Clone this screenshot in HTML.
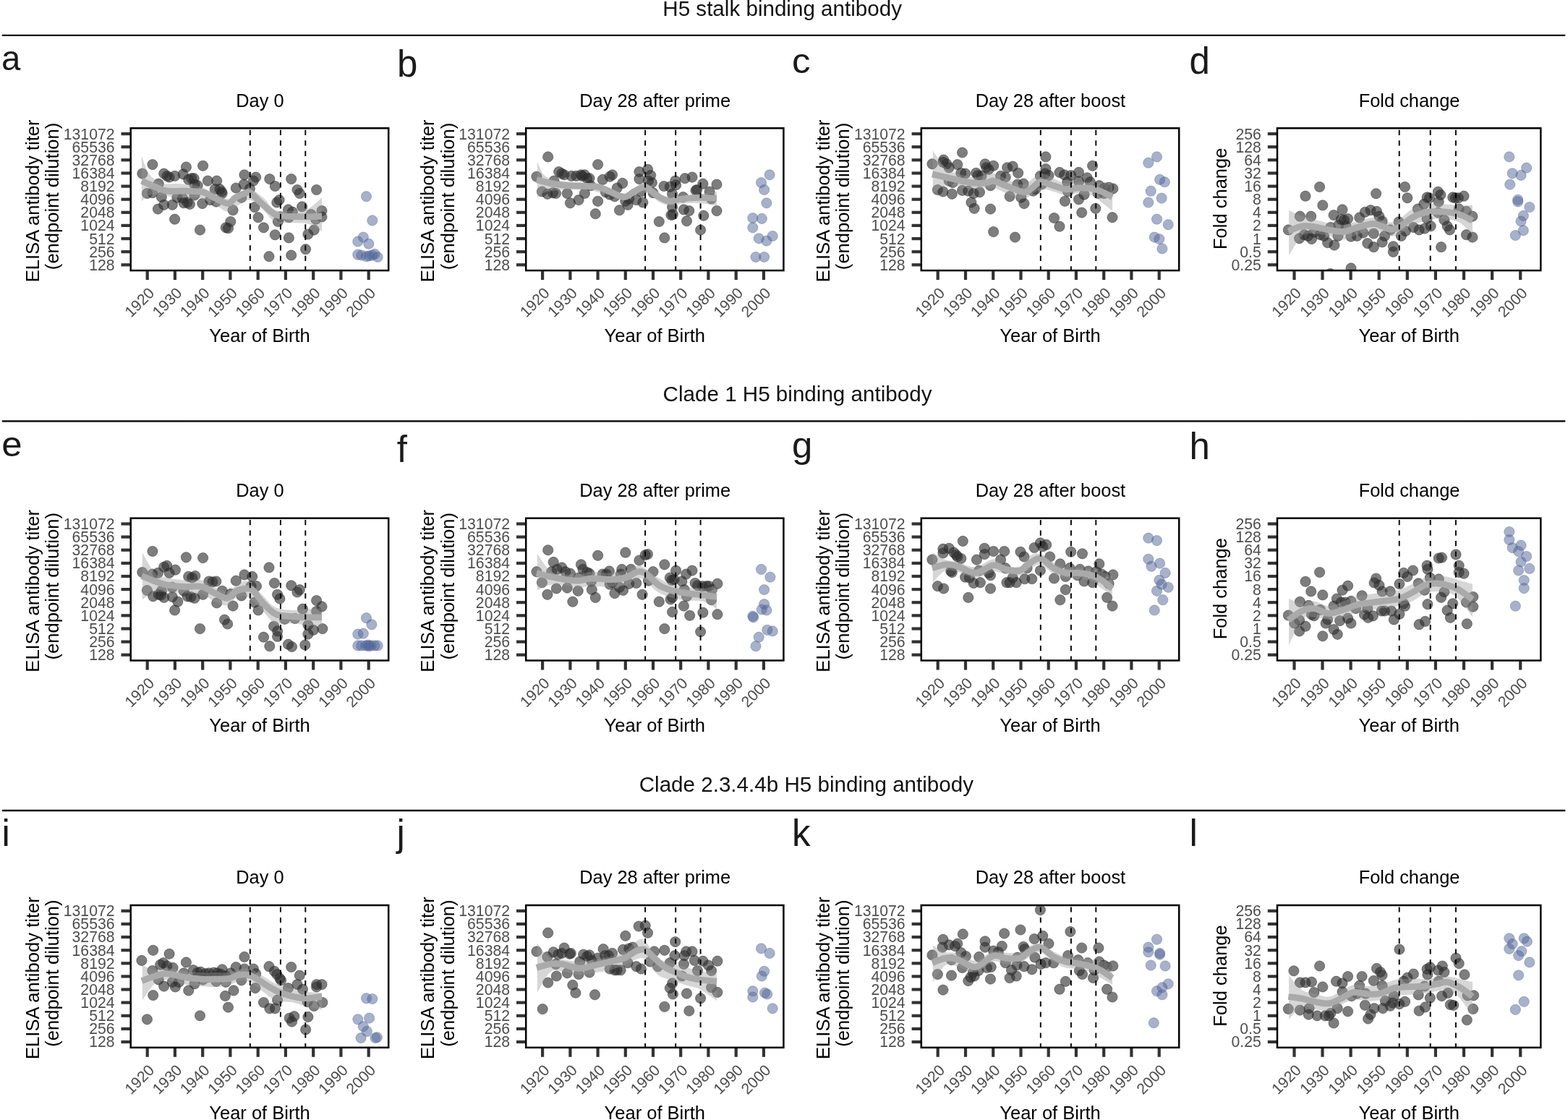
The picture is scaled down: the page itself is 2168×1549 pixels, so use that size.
<!DOCTYPE html><html><head><meta charset="utf-8"><title>H5 antibody titers by year of birth</title>
<style>html,body{margin:0;padding:0;background:#fff;overflow:hidden;width:2168px;height:1549px;}svg{display:block;}text{font-family:"Liberation Sans", Arial, Helvetica, sans-serif;}</style></head><body>
<svg width="2168" height="1549" viewBox="0 0 2168 1549">
<rect width="2168" height="1549" fill="#fff"/>
<text x="916.3" y="21.7" font-size="29.6" fill="#111">H5 stalk binding antibody</text>
<line x1="3.7" y1="48.8" x2="2163.4" y2="48.8" stroke="#111" stroke-width="2.3" stroke-linecap="round"/>
<text transform="translate(2 96.9) scale(0.93 0.96)" font-size="51" fill="#1a1a1a">a</text>
<text x="359.4" y="147.5" font-size="25.4" fill="#000" text-anchor="middle">Day 0</text>
<rect x="167.5" y="183" width="12.5" height="4.2" fill="#333"/><text x="158.5" y="192.5" font-size="21.2" fill="#4d4d4d" text-anchor="end">131072</text><rect x="167.5" y="201.1" width="12.5" height="4.2" fill="#333"/><text x="158.5" y="210.6" font-size="21.2" fill="#4d4d4d" text-anchor="end">65536</text><rect x="167.5" y="219.2" width="12.5" height="4.2" fill="#333"/><text x="158.5" y="228.7" font-size="21.2" fill="#4d4d4d" text-anchor="end">32768</text><rect x="167.5" y="237.4" width="12.5" height="4.2" fill="#333"/><text x="158.5" y="246.9" font-size="21.2" fill="#4d4d4d" text-anchor="end">16384</text><rect x="167.5" y="255.5" width="12.5" height="4.2" fill="#333"/><text x="158.5" y="265" font-size="21.2" fill="#4d4d4d" text-anchor="end">8192</text><rect x="167.5" y="273.6" width="12.5" height="4.2" fill="#333"/><text x="158.5" y="283.1" font-size="21.2" fill="#4d4d4d" text-anchor="end">4096</text><rect x="167.5" y="291.7" width="12.5" height="4.2" fill="#333"/><text x="158.5" y="301.2" font-size="21.2" fill="#4d4d4d" text-anchor="end">2048</text><rect x="167.5" y="309.8" width="12.5" height="4.2" fill="#333"/><text x="158.5" y="319.3" font-size="21.2" fill="#4d4d4d" text-anchor="end">1024</text><rect x="167.5" y="328" width="12.5" height="4.2" fill="#333"/><text x="158.5" y="337.5" font-size="21.2" fill="#4d4d4d" text-anchor="end">512</text><rect x="167.5" y="346.1" width="12.5" height="4.2" fill="#333"/><text x="158.5" y="355.6" font-size="21.2" fill="#4d4d4d" text-anchor="end">256</text><rect x="167.5" y="364.2" width="12.5" height="4.2" fill="#333"/><text x="158.5" y="373.7" font-size="21.2" fill="#4d4d4d" text-anchor="end">128</text>
<rect x="201.6" y="375.1" width="4.2" height="12" fill="#333"/><text transform="translate(214.6 406.7) rotate(-45)" font-size="21.2" fill="#4d4d4d" text-anchor="end">1920</text><rect x="239.8" y="375.1" width="4.2" height="12" fill="#333"/><text transform="translate(252.8 406.7) rotate(-45)" font-size="21.2" fill="#4d4d4d" text-anchor="end">1930</text><rect x="278.1" y="375.1" width="4.2" height="12" fill="#333"/><text transform="translate(291.1 406.7) rotate(-45)" font-size="21.2" fill="#4d4d4d" text-anchor="end">1940</text><rect x="316.3" y="375.1" width="4.2" height="12" fill="#333"/><text transform="translate(329.3 406.7) rotate(-45)" font-size="21.2" fill="#4d4d4d" text-anchor="end">1950</text><rect x="354.6" y="375.1" width="4.2" height="12" fill="#333"/><text transform="translate(367.6 406.7) rotate(-45)" font-size="21.2" fill="#4d4d4d" text-anchor="end">1960</text><rect x="392.8" y="375.1" width="4.2" height="12" fill="#333"/><text transform="translate(405.8 406.7) rotate(-45)" font-size="21.2" fill="#4d4d4d" text-anchor="end">1970</text><rect x="431.1" y="375.1" width="4.2" height="12" fill="#333"/><text transform="translate(444.1 406.7) rotate(-45)" font-size="21.2" fill="#4d4d4d" text-anchor="end">1980</text><rect x="469.3" y="375.1" width="4.2" height="12" fill="#333"/><text transform="translate(482.3 406.7) rotate(-45)" font-size="21.2" fill="#4d4d4d" text-anchor="end">1990</text><rect x="507.6" y="375.1" width="4.2" height="12" fill="#333"/><text transform="translate(520.6 406.7) rotate(-45)" font-size="21.2" fill="#4d4d4d" text-anchor="end">2000</text>
<text x="359" y="472.9" font-size="25.5" fill="#000" text-anchor="middle">Year of Birth</text>
<text transform="translate(53.8 277.9) rotate(-90)" font-size="25.6" fill="#000" text-anchor="middle">ELISA antibody titer</text>
<text transform="translate(81.3 271.4) rotate(-90)" font-size="25.6" fill="#000" text-anchor="middle">(endpoint dilution)</text>
<clipPath id="clip00"><rect x="180.7" y="177.3" width="356.5" height="196.8"/></clipPath>
<g clip-path="url(#clip00)">
<g fill="#2d2d2d" fill-opacity="0.62" stroke="#2d2d2d" stroke-opacity="0.62" stroke-width="0.8"><circle cx="196.8" cy="240.1" r="7.1"/><circle cx="210.9" cy="227.6" r="7.1"/><circle cx="219.2" cy="254.2" r="7.1"/><circle cx="203.4" cy="267.5" r="7.1"/><circle cx="210.9" cy="266.7" r="7.1"/><circle cx="223.3" cy="272.5" r="7.1"/><circle cx="218.4" cy="289.1" r="7.1"/><circle cx="226.7" cy="283.3" r="7.1"/><circle cx="226.7" cy="240.1" r="7.1"/><circle cx="230.8" cy="243.4" r="7.1"/><circle cx="234.1" cy="245.1" r="7.1"/><circle cx="241.6" cy="243.4" r="7.1"/><circle cx="238.3" cy="283.3" r="7.1"/><circle cx="241.6" cy="303.2" r="7.1"/><circle cx="244.9" cy="273.3" r="7.1"/><circle cx="252.4" cy="274.1" r="7.1"/><circle cx="254.1" cy="280.8" r="7.1"/><circle cx="259" cy="280" r="7.1"/><circle cx="262.4" cy="282.4" r="7.1"/><circle cx="257.4" cy="231" r="7.1"/><circle cx="253.2" cy="240.9" r="7.1"/><circle cx="260.7" cy="248.4" r="7.1"/><circle cx="264.9" cy="246.7" r="7.1"/><circle cx="268.2" cy="246.7" r="7.1"/><circle cx="269" cy="255" r="7.1"/><circle cx="273.2" cy="256.7" r="7.1"/><circle cx="269" cy="270" r="7.1"/><circle cx="280.6" cy="229.3" r="7.1"/><circle cx="279.8" cy="281.6" r="7.1"/><circle cx="276.5" cy="318.1" r="7.1"/><circle cx="287.3" cy="250.1" r="7.1"/><circle cx="290.6" cy="276.6" r="7.1"/><circle cx="297.2" cy="261.7" r="7.1"/><circle cx="299.7" cy="250.1" r="7.1"/><circle cx="303.9" cy="261.7" r="7.1"/><circle cx="306.4" cy="265" r="7.1"/><circle cx="298.9" cy="279.1" r="7.1"/><circle cx="307.2" cy="267.5" r="7.1"/><circle cx="312.2" cy="314.8" r="7.1"/><circle cx="315.5" cy="315.7" r="7.1"/><circle cx="318.8" cy="306.5" r="7.1"/><circle cx="322.1" cy="290.7" r="7.1"/><circle cx="326.3" cy="260" r="7.1"/><circle cx="333.8" cy="273.3" r="7.1"/><circle cx="337.9" cy="241.8" r="7.1"/><circle cx="337.1" cy="255" r="7.1"/><circle cx="345.4" cy="260.9" r="7.1"/><circle cx="353.7" cy="245.1" r="7.1"/><circle cx="350.4" cy="250.1" r="7.1"/><circle cx="352" cy="286.6" r="7.1"/><circle cx="357" cy="300.7" r="7.1"/><circle cx="364.5" cy="314.8" r="7.1"/><circle cx="372.8" cy="247.6" r="7.1"/><circle cx="380.3" cy="257.5" r="7.1"/><circle cx="382.8" cy="280" r="7.1"/><circle cx="386.1" cy="276.6" r="7.1"/><circle cx="380.3" cy="324.8" r="7.1"/><circle cx="384.4" cy="306.5" r="7.1"/><circle cx="372" cy="354.7" r="7.1"/><circle cx="402.7" cy="247.6" r="7.1"/><circle cx="411" cy="262.5" r="7.1"/><circle cx="414.3" cy="267.5" r="7.1"/><circle cx="398.5" cy="289.9" r="7.1"/><circle cx="404.3" cy="293.2" r="7.1"/><circle cx="399.4" cy="300.7" r="7.1"/><circle cx="399.4" cy="328.9" r="7.1"/><circle cx="402.7" cy="353" r="7.1"/><circle cx="417.6" cy="285.8" r="7.1"/><circle cx="422.6" cy="344.7" r="7.1"/><circle cx="425.9" cy="324" r="7.1"/><circle cx="430.1" cy="296.6" r="7.1"/><circle cx="434.2" cy="318.1" r="7.1"/><circle cx="437.6" cy="262.5" r="7.1"/><circle cx="436.7" cy="303.2" r="7.1"/><circle cx="445" cy="291.6" r="7.1"/><circle cx="445" cy="299.9" r="7.1"/><circle cx="387.7" cy="299.9" r="7.1"/></g>
<g fill="#506496" fill-opacity="0.5" stroke="#506496" stroke-opacity="0.5" stroke-width="0.8"><circle cx="506.5" cy="271.7" r="7.1"/><circle cx="514.8" cy="304.9" r="7.1"/><circle cx="494.8" cy="333.9" r="7.1"/><circle cx="502.3" cy="328.1" r="7.1"/><circle cx="509.8" cy="337.2" r="7.1"/><circle cx="494.8" cy="352.2" r="7.1"/><circle cx="499.8" cy="353" r="7.1"/><circle cx="506.5" cy="354.7" r="7.1"/><circle cx="510.6" cy="353.9" r="7.1"/><circle cx="514.8" cy="353" r="7.1"/><circle cx="518.1" cy="351.4" r="7.1"/><circle cx="522.2" cy="355.5" r="7.1"/></g>
<path d="M195.9 216C197.6 220 201.5 233.9 205.9 240.1C210.3 246.3 215.6 251 222.5 253.4C229.4 255.7 239.1 253.7 247.4 254.2C255.7 254.8 264 254.5 272.3 256.7C280.6 258.9 290 264.5 297.2 267.5C304.4 270.5 310 275.1 315.5 275C321 274.8 325.5 269 330.5 266.7C335.4 264.3 339.9 259.8 345.4 260.9C350.9 262 357.9 268.5 363.7 273.3C369.5 278.2 373.4 286.9 380.3 289.9C387.2 293 397.4 291.9 405.2 291.6C412.9 291.3 420.1 291.3 426.8 288.3C433.4 285.2 442 275.8 445 273.3L445 319.8C442 318.1 433.4 311.8 426.8 309.8C420.1 307.9 412.9 308.7 405.2 308.2C397.4 307.6 387.2 309.6 380.3 306.5C373.4 303.5 369.5 294.9 363.7 289.9C357.9 284.9 350.9 277.7 345.4 276.6C339.9 275.5 335.4 280.5 330.5 283.3C325.5 286 321 293.2 315.5 293.2C310 293.2 304.4 286.6 297.2 283.3C290 280 280.6 275 272.3 273.3C264 271.7 255.7 273.9 247.4 273.3C239.1 272.8 229.4 270.5 222.5 270C215.6 269.4 210.3 268.6 205.9 270C201.5 271.4 197.6 276.9 195.9 278.3Z" fill="#999" fill-opacity="0.4"/>
<path d="M195.9 250.1C199 251.4 208.4 256 214.2 258.4C220 260.7 223.9 263.2 230.8 264.2C237.7 265.1 247.4 263.9 255.7 264.2C264 264.5 273.7 264.2 280.6 265.8C287.6 267.5 291.4 271.5 297.2 274.1C303.1 276.8 310.8 281.8 315.5 281.6C320.2 281.5 321.3 275.8 325.5 273.3C329.6 270.8 336.8 267.6 340.4 266.7C344 265.7 343.7 265.3 347.1 267.5C350.4 269.7 354.8 275.1 360.3 280C365.9 284.8 374.2 293.4 380.3 296.6C386.4 299.7 390 298.5 396.9 299.1C403.8 299.6 413.8 299.9 421.8 299.9C429.8 299.9 441.2 299.2 445 299.1" fill="none" stroke="#aaaaaa" stroke-width="8.8" stroke-linejoin="round"/>
</g>
<line x1="345.8" y1="179.7" x2="345.8" y2="374.1" stroke="#000" stroke-width="1.9" stroke-dasharray="7.2 7.3"/>
<line x1="387.9" y1="179.7" x2="387.9" y2="374.1" stroke="#000" stroke-width="1.9" stroke-dasharray="7.2 7.3"/>
<line x1="422.3" y1="179.7" x2="422.3" y2="374.1" stroke="#000" stroke-width="1.9" stroke-dasharray="7.2 7.3"/>
<rect x="180.7" y="177.3" width="356.5" height="196.8" fill="none" stroke="#000" stroke-width="2.5"/>
<text transform="translate(549 105.9) scale(1 1)" font-size="51" fill="#1a1a1a">b</text>
<text x="905.7" y="147.5" font-size="25.4" fill="#000" text-anchor="middle">Day 28 after prime</text>
<rect x="714" y="183" width="12.5" height="4.2" fill="#333"/><text x="705" y="192.5" font-size="21.2" fill="#4d4d4d" text-anchor="end">131072</text><rect x="714" y="201.1" width="12.5" height="4.2" fill="#333"/><text x="705" y="210.6" font-size="21.2" fill="#4d4d4d" text-anchor="end">65536</text><rect x="714" y="219.2" width="12.5" height="4.2" fill="#333"/><text x="705" y="228.7" font-size="21.2" fill="#4d4d4d" text-anchor="end">32768</text><rect x="714" y="237.4" width="12.5" height="4.2" fill="#333"/><text x="705" y="246.9" font-size="21.2" fill="#4d4d4d" text-anchor="end">16384</text><rect x="714" y="255.5" width="12.5" height="4.2" fill="#333"/><text x="705" y="265" font-size="21.2" fill="#4d4d4d" text-anchor="end">8192</text><rect x="714" y="273.6" width="12.5" height="4.2" fill="#333"/><text x="705" y="283.1" font-size="21.2" fill="#4d4d4d" text-anchor="end">4096</text><rect x="714" y="291.7" width="12.5" height="4.2" fill="#333"/><text x="705" y="301.2" font-size="21.2" fill="#4d4d4d" text-anchor="end">2048</text><rect x="714" y="309.8" width="12.5" height="4.2" fill="#333"/><text x="705" y="319.3" font-size="21.2" fill="#4d4d4d" text-anchor="end">1024</text><rect x="714" y="328" width="12.5" height="4.2" fill="#333"/><text x="705" y="337.5" font-size="21.2" fill="#4d4d4d" text-anchor="end">512</text><rect x="714" y="346.1" width="12.5" height="4.2" fill="#333"/><text x="705" y="355.6" font-size="21.2" fill="#4d4d4d" text-anchor="end">256</text><rect x="714" y="364.2" width="12.5" height="4.2" fill="#333"/><text x="705" y="373.7" font-size="21.2" fill="#4d4d4d" text-anchor="end">128</text>
<rect x="748" y="375.1" width="4.2" height="12" fill="#333"/><text transform="translate(761 406.7) rotate(-45)" font-size="21.2" fill="#4d4d4d" text-anchor="end">1920</text><rect x="786.3" y="375.1" width="4.2" height="12" fill="#333"/><text transform="translate(799.3 406.7) rotate(-45)" font-size="21.2" fill="#4d4d4d" text-anchor="end">1930</text><rect x="824.5" y="375.1" width="4.2" height="12" fill="#333"/><text transform="translate(837.5 406.7) rotate(-45)" font-size="21.2" fill="#4d4d4d" text-anchor="end">1940</text><rect x="862.7" y="375.1" width="4.2" height="12" fill="#333"/><text transform="translate(875.7 406.7) rotate(-45)" font-size="21.2" fill="#4d4d4d" text-anchor="end">1950</text><rect x="900.9" y="375.1" width="4.2" height="12" fill="#333"/><text transform="translate(913.9 406.7) rotate(-45)" font-size="21.2" fill="#4d4d4d" text-anchor="end">1960</text><rect x="939.1" y="375.1" width="4.2" height="12" fill="#333"/><text transform="translate(952.1 406.7) rotate(-45)" font-size="21.2" fill="#4d4d4d" text-anchor="end">1970</text><rect x="977.3" y="375.1" width="4.2" height="12" fill="#333"/><text transform="translate(990.3 406.7) rotate(-45)" font-size="21.2" fill="#4d4d4d" text-anchor="end">1980</text><rect x="1015.6" y="375.1" width="4.2" height="12" fill="#333"/><text transform="translate(1028.6 406.7) rotate(-45)" font-size="21.2" fill="#4d4d4d" text-anchor="end">1990</text><rect x="1053.8" y="375.1" width="4.2" height="12" fill="#333"/><text transform="translate(1066.8 406.7) rotate(-45)" font-size="21.2" fill="#4d4d4d" text-anchor="end">2000</text>
<text x="905.3" y="472.9" font-size="25.5" fill="#000" text-anchor="middle">Year of Birth</text>
<text transform="translate(600.3 277.9) rotate(-90)" font-size="25.6" fill="#000" text-anchor="middle">ELISA antibody titer</text>
<text transform="translate(627.8 271.4) rotate(-90)" font-size="25.6" fill="#000" text-anchor="middle">(endpoint dilution)</text>
<clipPath id="clip01"><rect x="727.2" y="177.3" width="356.2" height="196.8"/></clipPath>
<g clip-path="url(#clip01)">
<g fill="#2d2d2d" fill-opacity="0.62" stroke="#2d2d2d" stroke-opacity="0.62" stroke-width="0.8"><circle cx="741.9" cy="244.3" r="7.1"/><circle cx="757.7" cy="216.9" r="7.1"/><circle cx="749.4" cy="265" r="7.1"/><circle cx="756.9" cy="268.3" r="7.1"/><circle cx="766" cy="250.1" r="7.1"/><circle cx="764.4" cy="266.7" r="7.1"/><circle cx="768.5" cy="267.5" r="7.1"/><circle cx="772.7" cy="237.6" r="7.1"/><circle cx="776.8" cy="240.1" r="7.1"/><circle cx="780.1" cy="241.8" r="7.1"/><circle cx="784.3" cy="267.5" r="7.1"/><circle cx="788.4" cy="280.8" r="7.1"/><circle cx="790.1" cy="243.4" r="7.1"/><circle cx="796.7" cy="243.4" r="7.1"/><circle cx="800.1" cy="276.6" r="7.1"/><circle cx="803.4" cy="241.8" r="7.1"/><circle cx="805" cy="243.4" r="7.1"/><circle cx="808.4" cy="241.8" r="7.1"/><circle cx="811.7" cy="246.7" r="7.1"/><circle cx="815" cy="246.7" r="7.1"/><circle cx="808.4" cy="267.5" r="7.1"/><circle cx="816.7" cy="256.7" r="7.1"/><circle cx="826.6" cy="227.6" r="7.1"/><circle cx="826.6" cy="278.3" r="7.1"/><circle cx="823.3" cy="295.7" r="7.1"/><circle cx="833.3" cy="248.4" r="7.1"/><circle cx="837.4" cy="265.8" r="7.1"/><circle cx="843.2" cy="244.3" r="7.1"/><circle cx="846.6" cy="241.8" r="7.1"/><circle cx="843.2" cy="269.2" r="7.1"/><circle cx="849.9" cy="271.7" r="7.1"/><circle cx="853.2" cy="260" r="7.1"/><circle cx="856.5" cy="290.7" r="7.1"/><circle cx="860.7" cy="253.4" r="7.1"/><circle cx="864.8" cy="278.3" r="7.1"/><circle cx="868.1" cy="283.3" r="7.1"/><circle cx="869.8" cy="275" r="7.1"/><circle cx="879.8" cy="276.6" r="7.1"/><circle cx="883.9" cy="237.6" r="7.1"/><circle cx="883.9" cy="247.6" r="7.1"/><circle cx="888.9" cy="280" r="7.1"/><circle cx="886.4" cy="265" r="7.1"/><circle cx="895.5" cy="234.3" r="7.1"/><circle cx="899.7" cy="242.6" r="7.1"/><circle cx="901.4" cy="252.6" r="7.1"/><circle cx="903" cy="266.7" r="7.1"/><circle cx="896.4" cy="250.1" r="7.1"/><circle cx="911.3" cy="306.5" r="7.1"/><circle cx="918" cy="257.5" r="7.1"/><circle cx="918.8" cy="328.9" r="7.1"/><circle cx="926.3" cy="258.4" r="7.1"/><circle cx="929.6" cy="268.3" r="7.1"/><circle cx="929.6" cy="286.6" r="7.1"/><circle cx="927.9" cy="297.4" r="7.1"/><circle cx="930.4" cy="296.6" r="7.1"/><circle cx="933.7" cy="250.1" r="7.1"/><circle cx="934.6" cy="255.9" r="7.1"/><circle cx="944.5" cy="272.5" r="7.1"/><circle cx="945.4" cy="289.9" r="7.1"/><circle cx="949.5" cy="305.7" r="7.1"/><circle cx="947" cy="246.7" r="7.1"/><circle cx="952.8" cy="291.6" r="7.1"/><circle cx="957" cy="245.1" r="7.1"/><circle cx="962" cy="263.4" r="7.1"/><circle cx="963.6" cy="262.5" r="7.1"/><circle cx="968.6" cy="318.1" r="7.1"/><circle cx="971.9" cy="254.2" r="7.1"/><circle cx="972.8" cy="298.2" r="7.1"/><circle cx="981.1" cy="265" r="7.1"/><circle cx="983.6" cy="275" r="7.1"/><circle cx="991" cy="255" r="7.1"/><circle cx="991" cy="291.6" r="7.1"/></g>
<g fill="#506496" fill-opacity="0.5" stroke="#506496" stroke-opacity="0.5" stroke-width="0.8"><circle cx="1064.1" cy="241.8" r="7.1"/><circle cx="1052.5" cy="252.6" r="7.1"/><circle cx="1056.6" cy="262.5" r="7.1"/><circle cx="1059.9" cy="280.8" r="7.1"/><circle cx="1040.8" cy="301.5" r="7.1"/><circle cx="1053.3" cy="302.4" r="7.1"/><circle cx="1040.8" cy="314.8" r="7.1"/><circle cx="1049.2" cy="329.8" r="7.1"/><circle cx="1059.9" cy="333.1" r="7.1"/><circle cx="1068.2" cy="326.5" r="7.1"/><circle cx="1045" cy="355.5" r="7.1"/><circle cx="1056.6" cy="355.5" r="7.1"/></g>
<path d="M742.8 223.5C744.3 226.5 747.6 237.5 751.9 241.8C756.2 246.1 761.6 247.6 768.5 249.2C775.4 250.9 785.1 251 793.4 251.7C801.7 252.4 810 252 818.3 253.4C826.6 254.8 835.8 257.7 843.2 260C850.7 262.4 857.6 267.5 863.2 267.5C868.7 267.5 871.7 262.2 876.5 260C881.2 257.8 885.9 253.1 891.4 254.2C896.9 255.3 903.9 263.6 909.7 266.7C915.5 269.7 919.4 271.9 926.3 272.5C933.2 273 943.4 270.8 951.2 270C958.9 269.2 966.1 268.3 972.8 267.5C979.4 266.7 988 265.4 991 265L991 284.9C988 284.4 979.4 282.3 972.8 281.6C966.1 280.9 958.9 280.4 951.2 280.8C943.4 281.2 933.2 284.5 926.3 284.1C919.4 283.7 915.5 281.6 909.7 278.3C903.9 275 896.9 265.4 891.4 264.2C885.9 262.9 881.2 268.7 876.5 270.8C871.7 272.9 868.7 276.6 863.2 276.6C857.6 276.6 850.7 273 843.2 270.8C835.8 268.6 826.6 264.9 818.3 263.4C810 261.8 801.7 261.7 793.4 261.7C785.1 261.7 775.4 262.5 768.5 263.4C761.6 264.2 756.2 265 751.9 266.7C747.6 268.3 744.3 272.2 742.8 273.3Z" fill="#999" fill-opacity="0.4"/>
<path d="M741.9 248.4C745 249.2 753 252 760.2 253.4C767.4 254.8 776.8 256 785.1 256.7C793.4 257.4 803.1 257.3 810 257.5C816.9 257.8 821.1 257.1 826.6 258.4C832.2 259.6 837.2 262.7 843.2 265C849.3 267.4 857.6 272.5 863.2 272.5C868.7 272.5 871.7 267.4 876.5 265C881.2 262.7 887.2 258.4 891.4 258.4C895.5 258.4 897.8 262.5 901.4 265C905 267.5 908.8 271.1 913 273.3C917.1 275.5 921.3 278 926.3 278.3C931.3 278.6 936 275.8 942.9 275C949.8 274.1 959.8 273.5 967.8 273.3C975.8 273.2 987.2 274 991 274.1" fill="none" stroke="#aaaaaa" stroke-width="8.8" stroke-linejoin="round"/>
</g>
<line x1="892.1" y1="179.7" x2="892.1" y2="374.1" stroke="#000" stroke-width="1.9" stroke-dasharray="7.2 7.3"/>
<line x1="934.2" y1="179.7" x2="934.2" y2="374.1" stroke="#000" stroke-width="1.9" stroke-dasharray="7.2 7.3"/>
<line x1="968.6" y1="179.7" x2="968.6" y2="374.1" stroke="#000" stroke-width="1.9" stroke-dasharray="7.2 7.3"/>
<rect x="727.2" y="177.3" width="356.2" height="196.8" fill="none" stroke="#000" stroke-width="2.5"/>
<text transform="translate(1095 100.6) scale(1.0 0.95)" font-size="51" fill="#1a1a1a">c</text>
<text x="1452.4" y="147.5" font-size="25.4" fill="#000" text-anchor="middle">Day 28 after boost</text>
<rect x="1260.6" y="183" width="12.5" height="4.2" fill="#333"/><text x="1251.6" y="192.5" font-size="21.2" fill="#4d4d4d" text-anchor="end">131072</text><rect x="1260.6" y="201.1" width="12.5" height="4.2" fill="#333"/><text x="1251.6" y="210.6" font-size="21.2" fill="#4d4d4d" text-anchor="end">65536</text><rect x="1260.6" y="219.2" width="12.5" height="4.2" fill="#333"/><text x="1251.6" y="228.7" font-size="21.2" fill="#4d4d4d" text-anchor="end">32768</text><rect x="1260.6" y="237.4" width="12.5" height="4.2" fill="#333"/><text x="1251.6" y="246.9" font-size="21.2" fill="#4d4d4d" text-anchor="end">16384</text><rect x="1260.6" y="255.5" width="12.5" height="4.2" fill="#333"/><text x="1251.6" y="265" font-size="21.2" fill="#4d4d4d" text-anchor="end">8192</text><rect x="1260.6" y="273.6" width="12.5" height="4.2" fill="#333"/><text x="1251.6" y="283.1" font-size="21.2" fill="#4d4d4d" text-anchor="end">4096</text><rect x="1260.6" y="291.7" width="12.5" height="4.2" fill="#333"/><text x="1251.6" y="301.2" font-size="21.2" fill="#4d4d4d" text-anchor="end">2048</text><rect x="1260.6" y="309.8" width="12.5" height="4.2" fill="#333"/><text x="1251.6" y="319.3" font-size="21.2" fill="#4d4d4d" text-anchor="end">1024</text><rect x="1260.6" y="328" width="12.5" height="4.2" fill="#333"/><text x="1251.6" y="337.5" font-size="21.2" fill="#4d4d4d" text-anchor="end">512</text><rect x="1260.6" y="346.1" width="12.5" height="4.2" fill="#333"/><text x="1251.6" y="355.6" font-size="21.2" fill="#4d4d4d" text-anchor="end">256</text><rect x="1260.6" y="364.2" width="12.5" height="4.2" fill="#333"/><text x="1251.6" y="373.7" font-size="21.2" fill="#4d4d4d" text-anchor="end">128</text>
<rect x="1294.6" y="375.1" width="4.2" height="12" fill="#333"/><text transform="translate(1307.6 406.7) rotate(-45)" font-size="21.2" fill="#4d4d4d" text-anchor="end">1920</text><rect x="1332.9" y="375.1" width="4.2" height="12" fill="#333"/><text transform="translate(1345.9 406.7) rotate(-45)" font-size="21.2" fill="#4d4d4d" text-anchor="end">1930</text><rect x="1371.1" y="375.1" width="4.2" height="12" fill="#333"/><text transform="translate(1384.1 406.7) rotate(-45)" font-size="21.2" fill="#4d4d4d" text-anchor="end">1940</text><rect x="1409.4" y="375.1" width="4.2" height="12" fill="#333"/><text transform="translate(1422.4 406.7) rotate(-45)" font-size="21.2" fill="#4d4d4d" text-anchor="end">1950</text><rect x="1447.6" y="375.1" width="4.2" height="12" fill="#333"/><text transform="translate(1460.6 406.7) rotate(-45)" font-size="21.2" fill="#4d4d4d" text-anchor="end">1960</text><rect x="1485.8" y="375.1" width="4.2" height="12" fill="#333"/><text transform="translate(1498.8 406.7) rotate(-45)" font-size="21.2" fill="#4d4d4d" text-anchor="end">1970</text><rect x="1524.1" y="375.1" width="4.2" height="12" fill="#333"/><text transform="translate(1537.1 406.7) rotate(-45)" font-size="21.2" fill="#4d4d4d" text-anchor="end">1980</text><rect x="1562.3" y="375.1" width="4.2" height="12" fill="#333"/><text transform="translate(1575.3 406.7) rotate(-45)" font-size="21.2" fill="#4d4d4d" text-anchor="end">1990</text><rect x="1600.6" y="375.1" width="4.2" height="12" fill="#333"/><text transform="translate(1613.6 406.7) rotate(-45)" font-size="21.2" fill="#4d4d4d" text-anchor="end">2000</text>
<text x="1452" y="472.9" font-size="25.5" fill="#000" text-anchor="middle">Year of Birth</text>
<text transform="translate(1146.9 277.9) rotate(-90)" font-size="25.6" fill="#000" text-anchor="middle">ELISA antibody titer</text>
<text transform="translate(1174.4 271.4) rotate(-90)" font-size="25.6" fill="#000" text-anchor="middle">(endpoint dilution)</text>
<clipPath id="clip02"><rect x="1273.8" y="177.3" width="356.4" height="196.8"/></clipPath>
<g clip-path="url(#clip02)">
<g fill="#2d2d2d" fill-opacity="0.62" stroke="#2d2d2d" stroke-opacity="0.62" stroke-width="0.8"><circle cx="1288.9" cy="226.8" r="7.1"/><circle cx="1330.5" cy="211" r="7.1"/><circle cx="1304.7" cy="221" r="7.1"/><circle cx="1303.9" cy="224.3" r="7.1"/><circle cx="1308.9" cy="226.8" r="7.1"/><circle cx="1312.2" cy="231.8" r="7.1"/><circle cx="1296.4" cy="262.5" r="7.1"/><circle cx="1303.9" cy="265" r="7.1"/><circle cx="1316.3" cy="268.3" r="7.1"/><circle cx="1312.2" cy="250.1" r="7.1"/><circle cx="1317.2" cy="252.6" r="7.1"/><circle cx="1323.8" cy="227.6" r="7.1"/><circle cx="1328.8" cy="239.3" r="7.1"/><circle cx="1334.6" cy="240.1" r="7.1"/><circle cx="1330.5" cy="263.4" r="7.1"/><circle cx="1338.8" cy="264.2" r="7.1"/><circle cx="1342.9" cy="280" r="7.1"/><circle cx="1347.1" cy="288.3" r="7.1"/><circle cx="1346.2" cy="267.5" r="7.1"/><circle cx="1354.5" cy="265.8" r="7.1"/><circle cx="1349.6" cy="239.3" r="7.1"/><circle cx="1352" cy="242.6" r="7.1"/><circle cx="1357" cy="243.4" r="7.1"/><circle cx="1362" cy="226.8" r="7.1"/><circle cx="1363.7" cy="231.8" r="7.1"/><circle cx="1367" cy="234.3" r="7.1"/><circle cx="1373.6" cy="229.3" r="7.1"/><circle cx="1369.5" cy="256.7" r="7.1"/><circle cx="1369.5" cy="289.1" r="7.1"/><circle cx="1373.6" cy="320.6" r="7.1"/><circle cx="1383.6" cy="243.4" r="7.1"/><circle cx="1390.2" cy="245.1" r="7.1"/><circle cx="1392.7" cy="231.8" r="7.1"/><circle cx="1400.2" cy="230.1" r="7.1"/><circle cx="1396.1" cy="271.7" r="7.1"/><circle cx="1403.5" cy="328.1" r="7.1"/><circle cx="1407.7" cy="239.3" r="7.1"/><circle cx="1406.8" cy="255" r="7.1"/><circle cx="1411.8" cy="273.3" r="7.1"/><circle cx="1415.1" cy="254.2" r="7.1"/><circle cx="1416" cy="281.6" r="7.1"/><circle cx="1428.4" cy="264.2" r="7.1"/><circle cx="1431.8" cy="261.7" r="7.1"/><circle cx="1438.4" cy="243.4" r="7.1"/><circle cx="1440.1" cy="255" r="7.1"/><circle cx="1445.9" cy="216.9" r="7.1"/><circle cx="1445.9" cy="233.5" r="7.1"/><circle cx="1450" cy="242.6" r="7.1"/><circle cx="1445" cy="240.1" r="7.1"/><circle cx="1457.5" cy="301.5" r="7.1"/><circle cx="1465" cy="238.4" r="7.1"/><circle cx="1465" cy="313.2" r="7.1"/><circle cx="1471.6" cy="241.8" r="7.1"/><circle cx="1472.4" cy="278.3" r="7.1"/><circle cx="1475.8" cy="251.7" r="7.1"/><circle cx="1476.6" cy="265" r="7.1"/><circle cx="1480.7" cy="242.6" r="7.1"/><circle cx="1491.5" cy="238.4" r="7.1"/><circle cx="1491.5" cy="250.9" r="7.1"/><circle cx="1491.5" cy="275.8" r="7.1"/><circle cx="1495.7" cy="294.1" r="7.1"/><circle cx="1499" cy="269.2" r="7.1"/><circle cx="1503.2" cy="245.9" r="7.1"/><circle cx="1507.3" cy="251.7" r="7.1"/><circle cx="1510.6" cy="229.3" r="7.1"/><circle cx="1514.8" cy="288.3" r="7.1"/><circle cx="1518.1" cy="267.5" r="7.1"/><circle cx="1519.8" cy="256.7" r="7.1"/><circle cx="1527.2" cy="260" r="7.1"/><circle cx="1533.1" cy="259.2" r="7.1"/><circle cx="1538.9" cy="260.9" r="7.1"/><circle cx="1538" cy="300.7" r="7.1"/><circle cx="1526.4" cy="267.5" r="7.1"/></g>
<g fill="#506496" fill-opacity="0.5" stroke="#506496" stroke-opacity="0.5" stroke-width="0.8"><circle cx="1599.5" cy="216.9" r="7.1"/><circle cx="1587.8" cy="225.2" r="7.1"/><circle cx="1603.6" cy="248.4" r="7.1"/><circle cx="1610.3" cy="251.7" r="7.1"/><circle cx="1591.2" cy="264.2" r="7.1"/><circle cx="1606.1" cy="274.1" r="7.1"/><circle cx="1587.8" cy="280" r="7.1"/><circle cx="1599.5" cy="303.2" r="7.1"/><circle cx="1615.2" cy="310.7" r="7.1"/><circle cx="1596.2" cy="328.1" r="7.1"/><circle cx="1602.8" cy="330.6" r="7.1"/><circle cx="1606.9" cy="343.9" r="7.1"/></g>
<path d="M1289.8 208.6C1292.7 212.4 1300.7 226.3 1307.2 231.8C1313.7 237.3 1321.9 239.5 1328.8 241.8C1335.7 244 1341.3 245.4 1348.7 245.1C1356.2 244.8 1366.7 239.8 1373.6 240.1C1380.6 240.4 1383.3 244.3 1390.2 246.7C1397.2 249.2 1407.1 256.2 1415.1 255C1423.2 253.9 1431.5 241.5 1438.4 240.1C1445.3 238.7 1450.9 244.5 1456.7 246.7C1462.5 249 1467.7 252.6 1473.3 253.4C1478.8 254.2 1483.8 252 1489.9 251.7C1496 251.4 1504.3 251.6 1509.8 251.7C1515.3 251.9 1518.4 252.3 1523.1 252.6C1527.8 252.8 1535.5 253.2 1538 253.4L1538 291.6C1535.5 289.6 1527.8 283.6 1523.1 280C1518.4 276.4 1515.3 272.1 1509.8 270C1504.3 267.9 1496 267.5 1489.9 267.5C1483.8 267.5 1478.8 270.4 1473.3 270C1467.7 269.6 1462.5 266.4 1456.7 265C1450.9 263.6 1445.3 260 1438.4 261.7C1431.5 263.4 1423.2 274.1 1415.1 275C1407.1 275.8 1397.2 269.2 1390.2 266.7C1383.3 264.2 1380.6 261 1373.6 260C1366.7 259.1 1356.2 261.1 1348.7 260.9C1341.3 260.6 1335.7 259.1 1328.8 258.4C1321.9 257.7 1313.7 255 1307.2 256.7C1300.7 258.4 1292.7 266.4 1289.8 268.3Z" fill="#999" fill-opacity="0.4"/>
<path d="M1288.9 240.9C1292 241.6 1300.6 243.6 1307.2 245.1C1313.9 246.6 1321.9 248.7 1328.8 250.1C1335.7 251.4 1342.6 253 1348.7 253.4C1354.8 253.8 1361.2 253.1 1365.3 252.6C1369.5 252 1369.5 249.4 1373.6 250.1C1377.8 250.8 1383.3 254.1 1390.2 256.7C1397.2 259.3 1409.1 265.3 1415.1 265.8C1421.2 266.4 1422.9 262.4 1426.8 260C1430.6 257.7 1433.4 252.3 1438.4 251.7C1443.4 251.2 1450.9 255 1456.7 256.7C1462.5 258.4 1467.7 261.1 1473.3 261.7C1478.8 262.2 1483.8 260.2 1489.9 260C1496 259.9 1504.3 260 1509.8 260.9C1515.3 261.7 1518.4 263.1 1523.1 265C1527.8 266.9 1535.5 271.2 1538 272.5" fill="none" stroke="#aaaaaa" stroke-width="8.8" stroke-linejoin="round"/>
</g>
<line x1="1438.8" y1="179.7" x2="1438.8" y2="374.1" stroke="#000" stroke-width="1.9" stroke-dasharray="7.2 7.3"/>
<line x1="1480.9" y1="179.7" x2="1480.9" y2="374.1" stroke="#000" stroke-width="1.9" stroke-dasharray="7.2 7.3"/>
<line x1="1515.3" y1="179.7" x2="1515.3" y2="374.1" stroke="#000" stroke-width="1.9" stroke-dasharray="7.2 7.3"/>
<rect x="1273.8" y="177.3" width="356.4" height="196.8" fill="none" stroke="#000" stroke-width="2.5"/>
<text transform="translate(1644.5 101.7) scale(1 1)" font-size="51" fill="#1a1a1a">d</text>
<text x="1948.6" y="147.5" font-size="25.4" fill="#000" text-anchor="middle">Fold change</text>
<rect x="1752.8" y="183" width="12.5" height="4.2" fill="#333"/><text x="1743.8" y="192.5" font-size="21.2" fill="#4d4d4d" text-anchor="end">256</text><rect x="1752.8" y="201.1" width="12.5" height="4.2" fill="#333"/><text x="1743.8" y="210.6" font-size="21.2" fill="#4d4d4d" text-anchor="end">128</text><rect x="1752.8" y="219.2" width="12.5" height="4.2" fill="#333"/><text x="1743.8" y="228.7" font-size="21.2" fill="#4d4d4d" text-anchor="end">64</text><rect x="1752.8" y="237.4" width="12.5" height="4.2" fill="#333"/><text x="1743.8" y="246.9" font-size="21.2" fill="#4d4d4d" text-anchor="end">32</text><rect x="1752.8" y="255.5" width="12.5" height="4.2" fill="#333"/><text x="1743.8" y="265" font-size="21.2" fill="#4d4d4d" text-anchor="end">16</text><rect x="1752.8" y="273.6" width="12.5" height="4.2" fill="#333"/><text x="1743.8" y="283.1" font-size="21.2" fill="#4d4d4d" text-anchor="end">8</text><rect x="1752.8" y="291.7" width="12.5" height="4.2" fill="#333"/><text x="1743.8" y="301.2" font-size="21.2" fill="#4d4d4d" text-anchor="end">4</text><rect x="1752.8" y="309.8" width="12.5" height="4.2" fill="#333"/><text x="1743.8" y="319.3" font-size="21.2" fill="#4d4d4d" text-anchor="end">2</text><rect x="1752.8" y="328" width="12.5" height="4.2" fill="#333"/><text x="1743.8" y="337.5" font-size="21.2" fill="#4d4d4d" text-anchor="end">1</text><rect x="1752.8" y="346.1" width="12.5" height="4.2" fill="#333"/><text x="1743.8" y="355.6" font-size="21.2" fill="#4d4d4d" text-anchor="end">0.5</text><rect x="1752.8" y="364.2" width="12.5" height="4.2" fill="#333"/><text x="1743.8" y="373.7" font-size="21.2" fill="#4d4d4d" text-anchor="end">0.25</text>
<rect x="1787.4" y="375.1" width="4.2" height="12" fill="#333"/><text transform="translate(1800.4 406.7) rotate(-45)" font-size="21.2" fill="#4d4d4d" text-anchor="end">1920</text><rect x="1826.4" y="375.1" width="4.2" height="12" fill="#333"/><text transform="translate(1839.4 406.7) rotate(-45)" font-size="21.2" fill="#4d4d4d" text-anchor="end">1930</text><rect x="1865.5" y="375.1" width="4.2" height="12" fill="#333"/><text transform="translate(1878.5 406.7) rotate(-45)" font-size="21.2" fill="#4d4d4d" text-anchor="end">1940</text><rect x="1904.6" y="375.1" width="4.2" height="12" fill="#333"/><text transform="translate(1917.6 406.7) rotate(-45)" font-size="21.2" fill="#4d4d4d" text-anchor="end">1950</text><rect x="1943.7" y="375.1" width="4.2" height="12" fill="#333"/><text transform="translate(1956.7 406.7) rotate(-45)" font-size="21.2" fill="#4d4d4d" text-anchor="end">1960</text><rect x="1982.8" y="375.1" width="4.2" height="12" fill="#333"/><text transform="translate(1995.8 406.7) rotate(-45)" font-size="21.2" fill="#4d4d4d" text-anchor="end">1970</text><rect x="2021.9" y="375.1" width="4.2" height="12" fill="#333"/><text transform="translate(2034.9 406.7) rotate(-45)" font-size="21.2" fill="#4d4d4d" text-anchor="end">1980</text><rect x="2061" y="375.1" width="4.2" height="12" fill="#333"/><text transform="translate(2074 406.7) rotate(-45)" font-size="21.2" fill="#4d4d4d" text-anchor="end">1990</text><rect x="2100.1" y="375.1" width="4.2" height="12" fill="#333"/><text transform="translate(2113.1 406.7) rotate(-45)" font-size="21.2" fill="#4d4d4d" text-anchor="end">2000</text>
<text x="1948.2" y="472.9" font-size="25.5" fill="#000" text-anchor="middle">Year of Birth</text>
<text transform="translate(1696.1 274.8) rotate(-90)" font-size="25.5" fill="#000" text-anchor="middle">Fold change</text>
<clipPath id="clip03"><rect x="1766" y="177.3" width="364.3" height="196.8"/></clipPath>
<g clip-path="url(#clip03)">
<g fill="#2d2d2d" fill-opacity="0.62" stroke="#2d2d2d" stroke-opacity="0.62" stroke-width="0.8"><circle cx="1781.3" cy="317.9" r="7.1"/><circle cx="1797.4" cy="299.2" r="7.1"/><circle cx="1796.6" cy="329.8" r="7.1"/><circle cx="1805" cy="271.2" r="7.1"/><circle cx="1803.3" cy="324.7" r="7.1"/><circle cx="1808.4" cy="326.4" r="7.1"/><circle cx="1812.7" cy="299.2" r="7.1"/><circle cx="1813.5" cy="330.6" r="7.1"/><circle cx="1816.9" cy="321.3" r="7.1"/><circle cx="1824.6" cy="258.5" r="7.1"/><circle cx="1828.8" cy="283.9" r="7.1"/><circle cx="1825.4" cy="324.7" r="7.1"/><circle cx="1830.5" cy="326.4" r="7.1"/><circle cx="1835.6" cy="335.7" r="7.1"/><circle cx="1839.8" cy="314.5" r="7.1"/><circle cx="1844.1" cy="297.5" r="7.1"/><circle cx="1844.9" cy="339.1" r="7.1"/><circle cx="1850" cy="326.4" r="7.1"/><circle cx="1850.9" cy="311.1" r="7.1"/><circle cx="1856" cy="289.9" r="7.1"/><circle cx="1854.3" cy="303.5" r="7.1"/><circle cx="1858.5" cy="304.3" r="7.1"/><circle cx="1863.6" cy="302.6" r="7.1"/><circle cx="1861.1" cy="312.8" r="7.1"/><circle cx="1867.9" cy="327.2" r="7.1"/><circle cx="1868" cy="370.9" r="7.1"/><circle cx="1839.3" cy="378.5" r="7.1"/><circle cx="1876.3" cy="326.4" r="7.1"/><circle cx="1879.7" cy="300.9" r="7.1"/><circle cx="1884.8" cy="322.1" r="7.1"/><circle cx="1887.4" cy="293.3" r="7.1"/><circle cx="1890.8" cy="336.6" r="7.1"/><circle cx="1895" cy="290.7" r="7.1"/><circle cx="1899.3" cy="323" r="7.1"/><circle cx="1899.3" cy="341.7" r="7.1"/><circle cx="1902.6" cy="267.8" r="7.1"/><circle cx="1903.5" cy="292.4" r="7.1"/><circle cx="1906.9" cy="299.2" r="7.1"/><circle cx="1911.1" cy="306" r="7.1"/><circle cx="1911.1" cy="334.9" r="7.1"/><circle cx="1914.5" cy="326.4" r="7.1"/><circle cx="1922.2" cy="317.9" r="7.1"/><circle cx="1926.4" cy="340.8" r="7.1"/><circle cx="1926.4" cy="348.4" r="7.1"/><circle cx="1934.1" cy="306.9" r="7.1"/><circle cx="1937.4" cy="326.4" r="7.1"/><circle cx="1942.5" cy="258.5" r="7.1"/><circle cx="1945.9" cy="273.8" r="7.1"/><circle cx="1943.4" cy="319.6" r="7.1"/><circle cx="1954.4" cy="314.5" r="7.1"/><circle cx="1960.4" cy="289" r="7.1"/><circle cx="1962.1" cy="317.9" r="7.1"/><circle cx="1968.9" cy="282.2" r="7.1"/><circle cx="1969.7" cy="316.2" r="7.1"/><circle cx="1973.1" cy="272.9" r="7.1"/><circle cx="1976.5" cy="273.8" r="7.1"/><circle cx="1978.2" cy="312.8" r="7.1"/><circle cx="1973.1" cy="302.6" r="7.1"/><circle cx="1988.4" cy="265.3" r="7.1"/><circle cx="1991.8" cy="269.5" r="7.1"/><circle cx="1989.2" cy="278.9" r="7.1"/><circle cx="1988.4" cy="294.1" r="7.1"/><circle cx="1992.6" cy="341.7" r="7.1"/><circle cx="1996.9" cy="304.3" r="7.1"/><circle cx="2001.1" cy="312.8" r="7.1"/><circle cx="2004.5" cy="317.9" r="7.1"/><circle cx="2008.7" cy="272.9" r="7.1"/><circle cx="2012.1" cy="273.8" r="7.1"/><circle cx="2016.4" cy="273.8" r="7.1"/><circle cx="2024" cy="271.2" r="7.1"/><circle cx="2017.2" cy="289" r="7.1"/><circle cx="2027.4" cy="292.4" r="7.1"/><circle cx="2027.4" cy="324.7" r="7.1"/><circle cx="2035.9" cy="299.2" r="7.1"/><circle cx="2035.9" cy="328.1" r="7.1"/></g>
<g fill="#506496" fill-opacity="0.5" stroke="#506496" stroke-opacity="0.5" stroke-width="0.8"><circle cx="2086.8" cy="216.9" r="7.1"/><circle cx="2110.6" cy="232.2" r="7.1"/><circle cx="2091.1" cy="239.8" r="7.1"/><circle cx="2103" cy="242.4" r="7.1"/><circle cx="2087.7" cy="255.1" r="7.1"/><circle cx="2098.7" cy="276.3" r="7.1"/><circle cx="2098.7" cy="278.9" r="7.1"/><circle cx="2114.8" cy="286.5" r="7.1"/><circle cx="2106.3" cy="298.4" r="7.1"/><circle cx="2103" cy="306" r="7.1"/><circle cx="2106.3" cy="318.7" r="7.1"/><circle cx="2095.3" cy="325.5" r="7.1"/></g>
<path d="M1782.1 290.7C1785.1 292.1 1794.2 297.1 1800 299.2C1805.7 301.3 1810.7 301.9 1816.9 303.5C1823.1 305 1830.5 307.3 1837.3 308.6C1844.1 309.8 1851.2 311.5 1857.7 311.1C1864.2 310.7 1869.5 307.7 1876.3 306C1883.1 304.3 1892.7 301.2 1898.4 300.9C1904.1 300.6 1906.3 303.2 1910.3 304.3C1914.2 305.4 1918.2 307.8 1922.2 307.7C1926.1 307.6 1929 306.6 1934.1 303.5C1939.1 300.4 1946.8 292.6 1952.7 289C1958.7 285.5 1964 283.5 1969.7 282.2C1975.4 281 1980.5 281.3 1986.7 281.4C1992.9 281.5 2001.4 282.7 2007 283.1C2012.7 283.5 2015.8 283.8 2020.6 283.9C2025.4 284.1 2033.4 283.9 2035.9 283.9L2035.9 324.7C2033.4 322.1 2025.4 312.8 2020.6 309.4C2015.8 306 2012.7 305.4 2007 304.3C2001.4 303.2 1992.9 302.3 1986.7 302.6C1980.5 302.9 1975.4 304.6 1969.7 306C1964 307.4 1958.7 308 1952.7 311.1C1946.8 314.2 1939.1 322.1 1934.1 324.7C1929 327.2 1926.1 326.8 1922.2 326.4C1918.2 326 1914.2 323.6 1910.3 322.1C1906.3 320.7 1904.1 317.5 1898.4 317.9C1892.7 318.3 1883.1 322.4 1876.3 324.7C1869.5 326.9 1864.2 331.2 1857.7 331.5C1851.2 331.8 1844.1 327.8 1837.3 326.4C1830.5 325 1823.1 323 1816.9 323C1810.7 323 1805.7 321.3 1800 326.4C1794.2 331.5 1785.1 349 1782.1 353.5Z" fill="#999" fill-opacity="0.4"/>
<path d="M1781.3 319.6C1784.4 318.5 1794 313.8 1800 312.8C1805.9 311.8 1810.7 312.8 1816.9 313.6C1823.1 314.5 1830.5 316.8 1837.3 317.9C1844.1 319 1851.2 321 1857.7 320.4C1864.2 319.9 1869.5 316.3 1876.3 314.5C1883.1 312.7 1892.7 309.7 1898.4 309.4C1904.1 309.1 1906.3 311.5 1910.3 312.8C1914.2 314.1 1918.2 316.8 1922.2 317C1926.1 317.3 1929 317.2 1934.1 314.5C1939.1 311.8 1946.8 304.3 1952.7 300.9C1958.7 297.5 1964 295.5 1969.7 294.1C1975.4 292.7 1980.5 292.4 1986.7 292.4C1992.9 292.4 2001.4 293.3 2007 294.1C2012.7 295 2015.8 295.7 2020.6 297.5C2025.4 299.4 2033.4 303.9 2035.9 305.2" fill="none" stroke="#aaaaaa" stroke-width="8.8" stroke-linejoin="round"/>
</g>
<line x1="1934.7" y1="179.7" x2="1934.7" y2="374.1" stroke="#000" stroke-width="1.9" stroke-dasharray="7.2 7.3"/>
<line x1="1977.7" y1="179.7" x2="1977.7" y2="374.1" stroke="#000" stroke-width="1.9" stroke-dasharray="7.2 7.3"/>
<line x1="2012.9" y1="179.7" x2="2012.9" y2="374.1" stroke="#000" stroke-width="1.9" stroke-dasharray="7.2 7.3"/>
<rect x="1766" y="177.3" width="364.3" height="196.8" fill="none" stroke="#000" stroke-width="2.5"/>
<text x="916.6" y="555.4" font-size="29.6" fill="#111">Clade 1 H5 binding antibody</text>
<line x1="3.7" y1="582.5" x2="2163.4" y2="582.5" stroke="#111" stroke-width="2.3" stroke-linecap="round"/>
<text transform="translate(2.3 630.9) scale(1.0 0.95)" font-size="51" fill="#1a1a1a">e</text>
<text x="359.4" y="686.9" font-size="25.4" fill="#000" text-anchor="middle">Day 0</text>
<rect x="167.5" y="722.4" width="12.5" height="4.2" fill="#333"/><text x="158.5" y="731.9" font-size="21.2" fill="#4d4d4d" text-anchor="end">131072</text><rect x="167.5" y="740.5" width="12.5" height="4.2" fill="#333"/><text x="158.5" y="750" font-size="21.2" fill="#4d4d4d" text-anchor="end">65536</text><rect x="167.5" y="758.6" width="12.5" height="4.2" fill="#333"/><text x="158.5" y="768.1" font-size="21.2" fill="#4d4d4d" text-anchor="end">32768</text><rect x="167.5" y="776.8" width="12.5" height="4.2" fill="#333"/><text x="158.5" y="786.3" font-size="21.2" fill="#4d4d4d" text-anchor="end">16384</text><rect x="167.5" y="794.9" width="12.5" height="4.2" fill="#333"/><text x="158.5" y="804.4" font-size="21.2" fill="#4d4d4d" text-anchor="end">8192</text><rect x="167.5" y="813" width="12.5" height="4.2" fill="#333"/><text x="158.5" y="822.5" font-size="21.2" fill="#4d4d4d" text-anchor="end">4096</text><rect x="167.5" y="831.1" width="12.5" height="4.2" fill="#333"/><text x="158.5" y="840.6" font-size="21.2" fill="#4d4d4d" text-anchor="end">2048</text><rect x="167.5" y="849.2" width="12.5" height="4.2" fill="#333"/><text x="158.5" y="858.7" font-size="21.2" fill="#4d4d4d" text-anchor="end">1024</text><rect x="167.5" y="867.4" width="12.5" height="4.2" fill="#333"/><text x="158.5" y="876.9" font-size="21.2" fill="#4d4d4d" text-anchor="end">512</text><rect x="167.5" y="885.5" width="12.5" height="4.2" fill="#333"/><text x="158.5" y="895" font-size="21.2" fill="#4d4d4d" text-anchor="end">256</text><rect x="167.5" y="903.6" width="12.5" height="4.2" fill="#333"/><text x="158.5" y="913.1" font-size="21.2" fill="#4d4d4d" text-anchor="end">128</text>
<rect x="201.6" y="914.5" width="4.2" height="12" fill="#333"/><text transform="translate(214.6 946.1) rotate(-45)" font-size="21.2" fill="#4d4d4d" text-anchor="end">1920</text><rect x="239.8" y="914.5" width="4.2" height="12" fill="#333"/><text transform="translate(252.8 946.1) rotate(-45)" font-size="21.2" fill="#4d4d4d" text-anchor="end">1930</text><rect x="278.1" y="914.5" width="4.2" height="12" fill="#333"/><text transform="translate(291.1 946.1) rotate(-45)" font-size="21.2" fill="#4d4d4d" text-anchor="end">1940</text><rect x="316.3" y="914.5" width="4.2" height="12" fill="#333"/><text transform="translate(329.3 946.1) rotate(-45)" font-size="21.2" fill="#4d4d4d" text-anchor="end">1950</text><rect x="354.6" y="914.5" width="4.2" height="12" fill="#333"/><text transform="translate(367.6 946.1) rotate(-45)" font-size="21.2" fill="#4d4d4d" text-anchor="end">1960</text><rect x="392.8" y="914.5" width="4.2" height="12" fill="#333"/><text transform="translate(405.8 946.1) rotate(-45)" font-size="21.2" fill="#4d4d4d" text-anchor="end">1970</text><rect x="431.1" y="914.5" width="4.2" height="12" fill="#333"/><text transform="translate(444.1 946.1) rotate(-45)" font-size="21.2" fill="#4d4d4d" text-anchor="end">1980</text><rect x="469.3" y="914.5" width="4.2" height="12" fill="#333"/><text transform="translate(482.3 946.1) rotate(-45)" font-size="21.2" fill="#4d4d4d" text-anchor="end">1990</text><rect x="507.6" y="914.5" width="4.2" height="12" fill="#333"/><text transform="translate(520.6 946.1) rotate(-45)" font-size="21.2" fill="#4d4d4d" text-anchor="end">2000</text>
<text x="359" y="1012.3" font-size="25.5" fill="#000" text-anchor="middle">Year of Birth</text>
<text transform="translate(53.8 817.3) rotate(-90)" font-size="25.6" fill="#000" text-anchor="middle">ELISA antibody titer</text>
<text transform="translate(81.3 810.8) rotate(-90)" font-size="25.6" fill="#000" text-anchor="middle">(endpoint dilution)</text>
<clipPath id="clip10"><rect x="180.7" y="716.7" width="356.5" height="196.8"/></clipPath>
<g clip-path="url(#clip10)">
<g fill="#2d2d2d" fill-opacity="0.62" stroke="#2d2d2d" stroke-opacity="0.62" stroke-width="0.8"><circle cx="196.8" cy="791.6" r="7.1"/><circle cx="210.9" cy="762.5" r="7.1"/><circle cx="210.9" cy="794" r="7.1"/><circle cx="218.4" cy="792.4" r="7.1"/><circle cx="203.4" cy="816.5" r="7.1"/><circle cx="211.7" cy="824.8" r="7.1"/><circle cx="219.2" cy="822.3" r="7.1"/><circle cx="223.3" cy="817.3" r="7.1"/><circle cx="222.5" cy="823.1" r="7.1"/><circle cx="226.7" cy="826.4" r="7.1"/><circle cx="226.7" cy="784.1" r="7.1"/><circle cx="230.8" cy="782.4" r="7.1"/><circle cx="234.1" cy="792.4" r="7.1"/><circle cx="242.4" cy="788.2" r="7.1"/><circle cx="238.3" cy="825.6" r="7.1"/><circle cx="238.3" cy="812.3" r="7.1"/><circle cx="245.8" cy="832.2" r="7.1"/><circle cx="241.6" cy="843.9" r="7.1"/><circle cx="257.4" cy="770.8" r="7.1"/><circle cx="254.1" cy="817.3" r="7.1"/><circle cx="259" cy="824.8" r="7.1"/><circle cx="260.7" cy="797.4" r="7.1"/><circle cx="265.7" cy="799" r="7.1"/><circle cx="269.8" cy="796.5" r="7.1"/><circle cx="264" cy="825.6" r="7.1"/><circle cx="269" cy="827.3" r="7.1"/><circle cx="280.6" cy="771.6" r="7.1"/><circle cx="280.6" cy="822.3" r="7.1"/><circle cx="276.5" cy="869.6" r="7.1"/><circle cx="288.9" cy="804" r="7.1"/><circle cx="293.9" cy="804.8" r="7.1"/><circle cx="298.9" cy="804" r="7.1"/><circle cx="299.7" cy="833.9" r="7.1"/><circle cx="307.2" cy="817.3" r="7.1"/><circle cx="310.5" cy="857.1" r="7.1"/><circle cx="314.7" cy="863" r="7.1"/><circle cx="318.8" cy="821.4" r="7.1"/><circle cx="322.1" cy="838.1" r="7.1"/><circle cx="326.3" cy="803.2" r="7.1"/><circle cx="333.8" cy="823.9" r="7.1"/><circle cx="337.9" cy="794.9" r="7.1"/><circle cx="348.7" cy="797.4" r="7.1"/><circle cx="347.1" cy="810.7" r="7.1"/><circle cx="354.5" cy="810.7" r="7.1"/><circle cx="352" cy="833.1" r="7.1"/><circle cx="357" cy="843.9" r="7.1"/><circle cx="364.5" cy="881.2" r="7.1"/><circle cx="372" cy="784.9" r="7.1"/><circle cx="372.8" cy="893.7" r="7.1"/><circle cx="379.4" cy="806.5" r="7.1"/><circle cx="378.6" cy="866.3" r="7.1"/><circle cx="383.6" cy="822.3" r="7.1"/><circle cx="386.9" cy="828.1" r="7.1"/><circle cx="383.6" cy="872.9" r="7.1"/><circle cx="383.6" cy="880.4" r="7.1"/><circle cx="393.6" cy="856.3" r="7.1"/><circle cx="398.5" cy="891.2" r="7.1"/><circle cx="403.5" cy="894.5" r="7.1"/><circle cx="402.7" cy="809.8" r="7.1"/><circle cx="407.7" cy="855.5" r="7.1"/><circle cx="411" cy="819" r="7.1"/><circle cx="414.3" cy="815.6" r="7.1"/><circle cx="418.5" cy="842.2" r="7.1"/><circle cx="421.8" cy="892" r="7.1"/><circle cx="425.9" cy="864.6" r="7.1"/><circle cx="425.9" cy="877.1" r="7.1"/><circle cx="433.4" cy="871.3" r="7.1"/><circle cx="437.6" cy="830.6" r="7.1"/><circle cx="437.6" cy="845.5" r="7.1"/><circle cx="445" cy="838.9" r="7.1"/><circle cx="445.9" cy="869.6" r="7.1"/></g>
<g fill="#506496" fill-opacity="0.5" stroke="#506496" stroke-opacity="0.5" stroke-width="0.8"><circle cx="506.5" cy="854.7" r="7.1"/><circle cx="513.9" cy="863.8" r="7.1"/><circle cx="494.8" cy="877.1" r="7.1"/><circle cx="502.3" cy="876.2" r="7.1"/><circle cx="494.8" cy="892.9" r="7.1"/><circle cx="499.8" cy="892.9" r="7.1"/><circle cx="505.6" cy="892.9" r="7.1"/><circle cx="509.8" cy="893.7" r="7.1"/><circle cx="513.1" cy="892.9" r="7.1"/><circle cx="518.1" cy="892.9" r="7.1"/><circle cx="522.2" cy="892.9" r="7.1"/><circle cx="509" cy="892" r="7.1"/></g>
<path d="M196.8 764.2C199.7 768.9 208.5 786.6 214.2 792.4C219.9 798.2 223.9 797.4 230.8 799C237.7 800.7 247.7 801.8 255.7 802.4C263.8 802.9 272.1 800.7 279 802.4C285.9 804 291.4 809.7 297.2 812.3C303.1 814.9 308.9 818.5 313.8 818.1C318.8 817.7 322.4 812.2 327.1 809.8C331.8 807.5 336 801.7 342.1 804C348.2 806.4 357.3 818 363.7 823.9C370 829.9 373.4 836.4 380.3 839.7C387.2 843 397.4 843.4 405.2 843.9C412.9 844.3 420.1 842.6 426.8 842.2C433.4 841.8 442 841.5 445 841.4L445 864.6C442 864.8 433.4 865.9 426.8 865.5C420.1 865 412.9 862.7 405.2 862.1C397.4 861.6 387.2 864.9 380.3 862.1C373.4 859.4 370 851.6 363.7 845.5C357.3 839.4 348.2 828.8 342.1 825.6C336 822.4 331.8 824.5 327.1 826.4C322.4 828.4 318.8 836.3 313.8 837.2C308.9 838.2 303.1 834.9 297.2 832.2C291.4 829.6 285.9 823.4 279 821.4C272.1 819.5 263.8 821 255.7 820.6C247.7 820.2 237.7 819.2 230.8 819C223.9 818.7 219.9 817.3 214.2 819C208.5 820.6 199.7 827.3 196.8 828.9Z" fill="#999" fill-opacity="0.4"/>
<path d="M195.9 796.5C199 797.8 208.4 801.9 214.2 804C220 806.1 223.9 807.7 230.8 809C237.7 810.2 247.7 811.1 255.7 811.5C263.8 811.9 272.1 810 279 811.5C285.9 813 291.4 818 297.2 820.6C303.1 823.2 308.9 827.8 313.8 827.3C318.8 826.7 322.4 819.5 327.1 817.3C331.8 815.1 338.2 814 342.1 814C346 814 346.8 814 350.4 817.3C354 820.6 358.7 828.6 363.7 833.9C368.6 839.2 374.7 845.8 380.3 848.8C385.8 851.9 390 851.3 396.9 852.2C403.8 853 413.8 853.6 421.8 853.8C429.8 854.1 441.2 853.8 445 853.8" fill="none" stroke="#aaaaaa" stroke-width="8.8" stroke-linejoin="round"/>
</g>
<line x1="345.8" y1="719.1" x2="345.8" y2="913.5" stroke="#000" stroke-width="1.9" stroke-dasharray="7.2 7.3"/>
<line x1="387.9" y1="719.1" x2="387.9" y2="913.5" stroke="#000" stroke-width="1.9" stroke-dasharray="7.2 7.3"/>
<line x1="422.3" y1="719.1" x2="422.3" y2="913.5" stroke="#000" stroke-width="1.9" stroke-dasharray="7.2 7.3"/>
<rect x="180.7" y="716.7" width="356.5" height="196.8" fill="none" stroke="#000" stroke-width="2.5"/>
<text transform="translate(548.7 638.8) scale(1 1)" font-size="51" fill="#1a1a1a">f</text>
<text x="905.7" y="686.9" font-size="25.4" fill="#000" text-anchor="middle">Day 28 after prime</text>
<rect x="714" y="722.4" width="12.5" height="4.2" fill="#333"/><text x="705" y="731.9" font-size="21.2" fill="#4d4d4d" text-anchor="end">131072</text><rect x="714" y="740.5" width="12.5" height="4.2" fill="#333"/><text x="705" y="750" font-size="21.2" fill="#4d4d4d" text-anchor="end">65536</text><rect x="714" y="758.6" width="12.5" height="4.2" fill="#333"/><text x="705" y="768.1" font-size="21.2" fill="#4d4d4d" text-anchor="end">32768</text><rect x="714" y="776.8" width="12.5" height="4.2" fill="#333"/><text x="705" y="786.3" font-size="21.2" fill="#4d4d4d" text-anchor="end">16384</text><rect x="714" y="794.9" width="12.5" height="4.2" fill="#333"/><text x="705" y="804.4" font-size="21.2" fill="#4d4d4d" text-anchor="end">8192</text><rect x="714" y="813" width="12.5" height="4.2" fill="#333"/><text x="705" y="822.5" font-size="21.2" fill="#4d4d4d" text-anchor="end">4096</text><rect x="714" y="831.1" width="12.5" height="4.2" fill="#333"/><text x="705" y="840.6" font-size="21.2" fill="#4d4d4d" text-anchor="end">2048</text><rect x="714" y="849.2" width="12.5" height="4.2" fill="#333"/><text x="705" y="858.7" font-size="21.2" fill="#4d4d4d" text-anchor="end">1024</text><rect x="714" y="867.4" width="12.5" height="4.2" fill="#333"/><text x="705" y="876.9" font-size="21.2" fill="#4d4d4d" text-anchor="end">512</text><rect x="714" y="885.5" width="12.5" height="4.2" fill="#333"/><text x="705" y="895" font-size="21.2" fill="#4d4d4d" text-anchor="end">256</text><rect x="714" y="903.6" width="12.5" height="4.2" fill="#333"/><text x="705" y="913.1" font-size="21.2" fill="#4d4d4d" text-anchor="end">128</text>
<rect x="748" y="914.5" width="4.2" height="12" fill="#333"/><text transform="translate(761 946.1) rotate(-45)" font-size="21.2" fill="#4d4d4d" text-anchor="end">1920</text><rect x="786.3" y="914.5" width="4.2" height="12" fill="#333"/><text transform="translate(799.3 946.1) rotate(-45)" font-size="21.2" fill="#4d4d4d" text-anchor="end">1930</text><rect x="824.5" y="914.5" width="4.2" height="12" fill="#333"/><text transform="translate(837.5 946.1) rotate(-45)" font-size="21.2" fill="#4d4d4d" text-anchor="end">1940</text><rect x="862.7" y="914.5" width="4.2" height="12" fill="#333"/><text transform="translate(875.7 946.1) rotate(-45)" font-size="21.2" fill="#4d4d4d" text-anchor="end">1950</text><rect x="900.9" y="914.5" width="4.2" height="12" fill="#333"/><text transform="translate(913.9 946.1) rotate(-45)" font-size="21.2" fill="#4d4d4d" text-anchor="end">1960</text><rect x="939.1" y="914.5" width="4.2" height="12" fill="#333"/><text transform="translate(952.1 946.1) rotate(-45)" font-size="21.2" fill="#4d4d4d" text-anchor="end">1970</text><rect x="977.3" y="914.5" width="4.2" height="12" fill="#333"/><text transform="translate(990.3 946.1) rotate(-45)" font-size="21.2" fill="#4d4d4d" text-anchor="end">1980</text><rect x="1015.6" y="914.5" width="4.2" height="12" fill="#333"/><text transform="translate(1028.6 946.1) rotate(-45)" font-size="21.2" fill="#4d4d4d" text-anchor="end">1990</text><rect x="1053.8" y="914.5" width="4.2" height="12" fill="#333"/><text transform="translate(1066.8 946.1) rotate(-45)" font-size="21.2" fill="#4d4d4d" text-anchor="end">2000</text>
<text x="905.3" y="1012.3" font-size="25.5" fill="#000" text-anchor="middle">Year of Birth</text>
<text transform="translate(600.3 817.3) rotate(-90)" font-size="25.6" fill="#000" text-anchor="middle">ELISA antibody titer</text>
<text transform="translate(627.8 810.8) rotate(-90)" font-size="25.6" fill="#000" text-anchor="middle">(endpoint dilution)</text>
<clipPath id="clip11"><rect x="727.2" y="716.7" width="356.2" height="196.8"/></clipPath>
<g clip-path="url(#clip11)">
<g fill="#2d2d2d" fill-opacity="0.62" stroke="#2d2d2d" stroke-opacity="0.62" stroke-width="0.8"><circle cx="741.9" cy="790.7" r="7.1"/><circle cx="757.7" cy="760.8" r="7.1"/><circle cx="749.4" cy="805.7" r="7.1"/><circle cx="756.9" cy="822.3" r="7.1"/><circle cx="765.2" cy="777.4" r="7.1"/><circle cx="762.7" cy="790.7" r="7.1"/><circle cx="769.3" cy="814" r="7.1"/><circle cx="770.2" cy="787.4" r="7.1"/><circle cx="776.8" cy="784.9" r="7.1"/><circle cx="781.8" cy="790.7" r="7.1"/><circle cx="788.4" cy="793.2" r="7.1"/><circle cx="784.3" cy="813.1" r="7.1"/><circle cx="791.8" cy="832.2" r="7.1"/><circle cx="799.2" cy="817.3" r="7.1"/><circle cx="800.1" cy="799" r="7.1"/><circle cx="803.4" cy="780.8" r="7.1"/><circle cx="805.9" cy="787.4" r="7.1"/><circle cx="811.7" cy="791.6" r="7.1"/><circle cx="815" cy="793.2" r="7.1"/><circle cx="817.5" cy="804" r="7.1"/><circle cx="818.3" cy="815.6" r="7.1"/><circle cx="823.3" cy="826.4" r="7.1"/><circle cx="826.6" cy="768.3" r="7.1"/><circle cx="833.3" cy="794" r="7.1"/><circle cx="838.3" cy="794" r="7.1"/><circle cx="842.4" cy="789.9" r="7.1"/><circle cx="843.2" cy="808.2" r="7.1"/><circle cx="846.6" cy="805.7" r="7.1"/><circle cx="849.9" cy="820.6" r="7.1"/><circle cx="858.2" cy="794" r="7.1"/><circle cx="859.8" cy="787.4" r="7.1"/><circle cx="861.5" cy="816.5" r="7.1"/><circle cx="856.5" cy="812.3" r="7.1"/><circle cx="864.8" cy="764.2" r="7.1"/><circle cx="869.8" cy="807.3" r="7.1"/><circle cx="872.3" cy="787.4" r="7.1"/><circle cx="879.8" cy="806.5" r="7.1"/><circle cx="883.9" cy="775" r="7.1"/><circle cx="888.1" cy="822.3" r="7.1"/><circle cx="892.2" cy="767.5" r="7.1"/><circle cx="895.5" cy="766.6" r="7.1"/><circle cx="896.4" cy="803.2" r="7.1"/><circle cx="903" cy="790.7" r="7.1"/><circle cx="911.3" cy="832.2" r="7.1"/><circle cx="918.8" cy="780.8" r="7.1"/><circle cx="918.8" cy="869.6" r="7.1"/><circle cx="926.3" cy="799" r="7.1"/><circle cx="928.8" cy="802.4" r="7.1"/><circle cx="932.1" cy="801.5" r="7.1"/><circle cx="934.6" cy="789.1" r="7.1"/><circle cx="927.1" cy="828.9" r="7.1"/><circle cx="929.6" cy="826.4" r="7.1"/><circle cx="929.6" cy="846.4" r="7.1"/><circle cx="942.9" cy="804" r="7.1"/><circle cx="945.4" cy="838.1" r="7.1"/><circle cx="948.7" cy="794" r="7.1"/><circle cx="949.5" cy="824.8" r="7.1"/><circle cx="953.7" cy="851.3" r="7.1"/><circle cx="957" cy="789.1" r="7.1"/><circle cx="961.1" cy="806.5" r="7.1"/><circle cx="964.5" cy="809.8" r="7.1"/><circle cx="968.6" cy="873.8" r="7.1"/><circle cx="971.1" cy="810.7" r="7.1"/><circle cx="971.9" cy="847.2" r="7.1"/><circle cx="976.9" cy="810.7" r="7.1"/><circle cx="980.2" cy="810.7" r="7.1"/><circle cx="984.4" cy="815.6" r="7.1"/><circle cx="983.6" cy="829.7" r="7.1"/><circle cx="991.9" cy="807.3" r="7.1"/><circle cx="991.9" cy="849.7" r="7.1"/><circle cx="946.2" cy="815.6" r="7.1"/></g>
<g fill="#506496" fill-opacity="0.5" stroke="#506496" stroke-opacity="0.5" stroke-width="0.8"><circle cx="1052.5" cy="787.4" r="7.1"/><circle cx="1064.9" cy="798.2" r="7.1"/><circle cx="1056.6" cy="815.6" r="7.1"/><circle cx="1056.6" cy="835.6" r="7.1"/><circle cx="1053.3" cy="843" r="7.1"/><circle cx="1059.9" cy="843.9" r="7.1"/><circle cx="1040.8" cy="852.2" r="7.1"/><circle cx="1041.7" cy="853.8" r="7.1"/><circle cx="1060.8" cy="871.3" r="7.1"/><circle cx="1068.2" cy="872.9" r="7.1"/><circle cx="1049.2" cy="881.2" r="7.1"/><circle cx="1045" cy="893.7" r="7.1"/></g>
<path d="M742.8 765.8C745.7 769.7 754.5 784.4 760.2 789.1C765.9 793.8 770.2 793.2 776.8 794C783.5 794.9 793.1 794.6 800.1 794C807 793.5 811.1 791 818.3 790.7C825.5 790.4 835.5 792.7 843.2 792.4C851 792.1 858.5 790.7 864.8 789.1C871.2 787.4 877 783 881.4 782.4C885.9 781.9 886.7 783 891.4 785.7C896.1 788.5 903 795.2 909.7 799C916.3 802.9 924.3 806.8 931.3 809C938.2 811.2 944.3 811.5 951.2 812.3C958.1 813.1 966.1 814.5 972.8 814C979.4 813.4 988 809.8 991 809L991 842.2C988 840.5 979.4 834.2 972.8 832.2C966.1 830.3 958.1 831.4 951.2 830.6C944.3 829.7 938.2 829.2 931.3 827.3C924.3 825.3 916.3 823.1 909.7 819C903 814.8 896.1 805.4 891.4 802.4C886.7 799.3 885.9 799.4 881.4 800.7C877 801.9 871.2 808 864.8 809.8C858.5 811.6 851 811.3 843.2 811.5C835.5 811.6 825.5 810.5 818.3 810.7C811.1 810.8 807 812.6 800.1 812.3C793.1 812 783.5 809.5 776.8 809C770.2 808.4 765.9 807.7 760.2 809C754.5 810.2 745.7 815.2 742.8 816.5Z" fill="#999" fill-opacity="0.4"/>
<path d="M741.9 792.4C745 793.2 754.4 796 760.2 797.4C766 798.8 770.2 799.7 776.8 800.7C783.5 801.7 793.1 803.3 800.1 803.2C807 803 811.1 800.1 818.3 799.9C825.5 799.6 835.5 801.7 843.2 801.5C851 801.4 858.5 800.8 864.8 799C871.2 797.2 877 791.8 881.4 790.7C885.9 789.6 888.1 790.7 891.4 792.4C894.7 794 897.8 797.6 901.4 800.7C905 803.7 908 807.9 913 810.7C918 813.4 924.9 815.6 931.3 817.3C937.6 819 944.3 819.6 951.2 820.6C958.1 821.6 966.1 822.3 972.8 823.1C979.4 823.9 988 825.2 991 825.6" fill="none" stroke="#aaaaaa" stroke-width="8.8" stroke-linejoin="round"/>
</g>
<line x1="892.1" y1="719.1" x2="892.1" y2="913.5" stroke="#000" stroke-width="1.9" stroke-dasharray="7.2 7.3"/>
<line x1="934.2" y1="719.1" x2="934.2" y2="913.5" stroke="#000" stroke-width="1.9" stroke-dasharray="7.2 7.3"/>
<line x1="968.6" y1="719.1" x2="968.6" y2="913.5" stroke="#000" stroke-width="1.9" stroke-dasharray="7.2 7.3"/>
<rect x="727.2" y="716.7" width="356.2" height="196.8" fill="none" stroke="#000" stroke-width="2.5"/>
<text transform="translate(1094.9 632.5) scale(1.0 0.97)" font-size="51" fill="#1a1a1a">g</text>
<text x="1452.4" y="686.9" font-size="25.4" fill="#000" text-anchor="middle">Day 28 after boost</text>
<rect x="1260.6" y="722.4" width="12.5" height="4.2" fill="#333"/><text x="1251.6" y="731.9" font-size="21.2" fill="#4d4d4d" text-anchor="end">131072</text><rect x="1260.6" y="740.5" width="12.5" height="4.2" fill="#333"/><text x="1251.6" y="750" font-size="21.2" fill="#4d4d4d" text-anchor="end">65536</text><rect x="1260.6" y="758.6" width="12.5" height="4.2" fill="#333"/><text x="1251.6" y="768.1" font-size="21.2" fill="#4d4d4d" text-anchor="end">32768</text><rect x="1260.6" y="776.8" width="12.5" height="4.2" fill="#333"/><text x="1251.6" y="786.3" font-size="21.2" fill="#4d4d4d" text-anchor="end">16384</text><rect x="1260.6" y="794.9" width="12.5" height="4.2" fill="#333"/><text x="1251.6" y="804.4" font-size="21.2" fill="#4d4d4d" text-anchor="end">8192</text><rect x="1260.6" y="813" width="12.5" height="4.2" fill="#333"/><text x="1251.6" y="822.5" font-size="21.2" fill="#4d4d4d" text-anchor="end">4096</text><rect x="1260.6" y="831.1" width="12.5" height="4.2" fill="#333"/><text x="1251.6" y="840.6" font-size="21.2" fill="#4d4d4d" text-anchor="end">2048</text><rect x="1260.6" y="849.2" width="12.5" height="4.2" fill="#333"/><text x="1251.6" y="858.7" font-size="21.2" fill="#4d4d4d" text-anchor="end">1024</text><rect x="1260.6" y="867.4" width="12.5" height="4.2" fill="#333"/><text x="1251.6" y="876.9" font-size="21.2" fill="#4d4d4d" text-anchor="end">512</text><rect x="1260.6" y="885.5" width="12.5" height="4.2" fill="#333"/><text x="1251.6" y="895" font-size="21.2" fill="#4d4d4d" text-anchor="end">256</text><rect x="1260.6" y="903.6" width="12.5" height="4.2" fill="#333"/><text x="1251.6" y="913.1" font-size="21.2" fill="#4d4d4d" text-anchor="end">128</text>
<rect x="1294.6" y="914.5" width="4.2" height="12" fill="#333"/><text transform="translate(1307.6 946.1) rotate(-45)" font-size="21.2" fill="#4d4d4d" text-anchor="end">1920</text><rect x="1332.9" y="914.5" width="4.2" height="12" fill="#333"/><text transform="translate(1345.9 946.1) rotate(-45)" font-size="21.2" fill="#4d4d4d" text-anchor="end">1930</text><rect x="1371.1" y="914.5" width="4.2" height="12" fill="#333"/><text transform="translate(1384.1 946.1) rotate(-45)" font-size="21.2" fill="#4d4d4d" text-anchor="end">1940</text><rect x="1409.4" y="914.5" width="4.2" height="12" fill="#333"/><text transform="translate(1422.4 946.1) rotate(-45)" font-size="21.2" fill="#4d4d4d" text-anchor="end">1950</text><rect x="1447.6" y="914.5" width="4.2" height="12" fill="#333"/><text transform="translate(1460.6 946.1) rotate(-45)" font-size="21.2" fill="#4d4d4d" text-anchor="end">1960</text><rect x="1485.8" y="914.5" width="4.2" height="12" fill="#333"/><text transform="translate(1498.8 946.1) rotate(-45)" font-size="21.2" fill="#4d4d4d" text-anchor="end">1970</text><rect x="1524.1" y="914.5" width="4.2" height="12" fill="#333"/><text transform="translate(1537.1 946.1) rotate(-45)" font-size="21.2" fill="#4d4d4d" text-anchor="end">1980</text><rect x="1562.3" y="914.5" width="4.2" height="12" fill="#333"/><text transform="translate(1575.3 946.1) rotate(-45)" font-size="21.2" fill="#4d4d4d" text-anchor="end">1990</text><rect x="1600.6" y="914.5" width="4.2" height="12" fill="#333"/><text transform="translate(1613.6 946.1) rotate(-45)" font-size="21.2" fill="#4d4d4d" text-anchor="end">2000</text>
<text x="1452" y="1012.3" font-size="25.5" fill="#000" text-anchor="middle">Year of Birth</text>
<text transform="translate(1146.9 817.3) rotate(-90)" font-size="25.6" fill="#000" text-anchor="middle">ELISA antibody titer</text>
<text transform="translate(1174.4 810.8) rotate(-90)" font-size="25.6" fill="#000" text-anchor="middle">(endpoint dilution)</text>
<clipPath id="clip12"><rect x="1273.8" y="716.7" width="356.4" height="196.8"/></clipPath>
<g clip-path="url(#clip12)">
<g fill="#2d2d2d" fill-opacity="0.62" stroke="#2d2d2d" stroke-opacity="0.62" stroke-width="0.8"><circle cx="1288.9" cy="774.1" r="7.1"/><circle cx="1303.9" cy="759.2" r="7.1"/><circle cx="1303.9" cy="765" r="7.1"/><circle cx="1312.2" cy="758.3" r="7.1"/><circle cx="1296.4" cy="810.7" r="7.1"/><circle cx="1304.7" cy="814" r="7.1"/><circle cx="1314.7" cy="789.9" r="7.1"/><circle cx="1316.3" cy="791.6" r="7.1"/><circle cx="1318.8" cy="764.2" r="7.1"/><circle cx="1322.2" cy="767.5" r="7.1"/><circle cx="1323.8" cy="770" r="7.1"/><circle cx="1328.8" cy="772.5" r="7.1"/><circle cx="1331.3" cy="748.4" r="7.1"/><circle cx="1338.8" cy="826.4" r="7.1"/><circle cx="1334.6" cy="798.2" r="7.1"/><circle cx="1340.4" cy="799" r="7.1"/><circle cx="1346.2" cy="806.5" r="7.1"/><circle cx="1350.4" cy="774.1" r="7.1"/><circle cx="1353.7" cy="789.1" r="7.1"/><circle cx="1355.4" cy="805.7" r="7.1"/><circle cx="1361.2" cy="758.3" r="7.1"/><circle cx="1361.2" cy="766.6" r="7.1"/><circle cx="1367" cy="792.4" r="7.1"/><circle cx="1369.5" cy="795.7" r="7.1"/><circle cx="1369.5" cy="814" r="7.1"/><circle cx="1373.6" cy="762.5" r="7.1"/><circle cx="1383.6" cy="774.1" r="7.1"/><circle cx="1388.6" cy="762.5" r="7.1"/><circle cx="1390.2" cy="785.7" r="7.1"/><circle cx="1391.9" cy="805.7" r="7.1"/><circle cx="1396.1" cy="805.7" r="7.1"/><circle cx="1400.2" cy="799" r="7.1"/><circle cx="1405.2" cy="805.7" r="7.1"/><circle cx="1411" cy="763.3" r="7.1"/><circle cx="1416" cy="770" r="7.1"/><circle cx="1416.8" cy="800.7" r="7.1"/><circle cx="1420.1" cy="785.7" r="7.1"/><circle cx="1426.8" cy="800.7" r="7.1"/><circle cx="1430.1" cy="757.5" r="7.1"/><circle cx="1438.4" cy="750.9" r="7.1"/><circle cx="1441.7" cy="755.9" r="7.1"/><circle cx="1446.7" cy="753.4" r="7.1"/><circle cx="1438.4" cy="789.1" r="7.1"/><circle cx="1451.7" cy="770" r="7.1"/><circle cx="1457.5" cy="799.9" r="7.1"/><circle cx="1465.8" cy="779.9" r="7.1"/><circle cx="1465.8" cy="829.7" r="7.1"/><circle cx="1473.3" cy="797.4" r="7.1"/><circle cx="1473.3" cy="815.6" r="7.1"/><circle cx="1479.1" cy="785.7" r="7.1"/><circle cx="1480.7" cy="763.3" r="7.1"/><circle cx="1489.9" cy="795.7" r="7.1"/><circle cx="1493.2" cy="787.4" r="7.1"/><circle cx="1496.5" cy="765.8" r="7.1"/><circle cx="1499" cy="804" r="7.1"/><circle cx="1504.8" cy="789.9" r="7.1"/><circle cx="1510.6" cy="805.7" r="7.1"/><circle cx="1515.6" cy="790.7" r="7.1"/><circle cx="1519.8" cy="779.9" r="7.1"/><circle cx="1523.1" cy="794" r="7.1"/><circle cx="1528.1" cy="797.4" r="7.1"/><circle cx="1533.1" cy="807.3" r="7.1"/><circle cx="1538.9" cy="794.9" r="7.1"/><circle cx="1530.6" cy="826.4" r="7.1"/><circle cx="1538" cy="838.1" r="7.1"/></g>
<g fill="#506496" fill-opacity="0.5" stroke="#506496" stroke-opacity="0.5" stroke-width="0.8"><circle cx="1587.8" cy="744.2" r="7.1"/><circle cx="1599.5" cy="747.6" r="7.1"/><circle cx="1587.8" cy="773.3" r="7.1"/><circle cx="1603.6" cy="779.1" r="7.1"/><circle cx="1592" cy="783.3" r="7.1"/><circle cx="1611.1" cy="792.4" r="7.1"/><circle cx="1602.8" cy="802.4" r="7.1"/><circle cx="1606.1" cy="808.2" r="7.1"/><circle cx="1615.2" cy="812.3" r="7.1"/><circle cx="1599.5" cy="817.3" r="7.1"/><circle cx="1607.8" cy="829.7" r="7.1"/><circle cx="1596.2" cy="843.9" r="7.1"/></g>
<path d="M1289.8 764.2C1292.7 765.8 1301.5 771.9 1307.2 774.1C1312.9 776.3 1316.9 775.8 1323.8 777.4C1330.7 779.1 1340.4 784.8 1348.7 784.1C1357 783.4 1366.7 773.6 1373.6 773.3C1380.6 773 1384.2 780.8 1390.2 782.4C1396.3 784.1 1404.6 785.5 1410.2 783.3C1415.7 781 1418.7 772 1423.5 769.1C1428.2 766.2 1432.9 764.3 1438.4 765.8C1443.9 767.3 1450.9 775 1456.7 778.3C1462.5 781.6 1467.7 784.5 1473.3 785.7C1478.8 787 1483.8 785.5 1489.9 785.7C1496 786 1504.3 786.6 1509.8 787.4C1515.3 788.2 1518.4 789.1 1523.1 790.7C1527.8 792.4 1535.5 796.3 1538 797.4L1538 822.3C1535.5 820.9 1527.8 817 1523.1 814C1518.4 810.9 1515.3 806.2 1509.8 804C1504.3 801.8 1496 801.5 1489.9 800.7C1483.8 799.9 1478.8 800.1 1473.3 799C1467.7 797.9 1462.5 797.1 1456.7 794C1450.9 791 1443.9 781.9 1438.4 780.8C1432.9 779.7 1428.2 784.9 1423.5 787.4C1418.7 789.9 1415.7 794.6 1410.2 795.7C1404.6 796.8 1396.3 794.9 1390.2 794C1384.2 793.2 1380.6 789.9 1373.6 790.7C1366.7 791.6 1357 799 1348.7 799C1340.4 799 1330.7 792.4 1323.8 790.7C1316.9 789.1 1312.9 786.6 1307.2 789.1C1301.5 791.6 1292.7 802.9 1289.8 805.7Z" fill="#999" fill-opacity="0.4"/>
<path d="M1288.9 785.7C1292 784.9 1301.4 781.2 1307.2 780.8C1313 780.3 1316.9 781.3 1323.8 783.3C1330.7 785.2 1340.4 792.7 1348.7 792.4C1357 792.1 1366.7 782.4 1373.6 781.6C1380.6 780.8 1384.2 786.2 1390.2 787.4C1396.3 788.7 1404.6 790.4 1410.2 789.1C1415.7 787.7 1418.7 781.9 1423.5 779.1C1428.2 776.3 1432.9 771.4 1438.4 772.5C1443.9 773.6 1450.9 782.4 1456.7 785.7C1462.5 789.1 1467.7 791.3 1473.3 792.4C1478.8 793.5 1483.8 791.8 1489.9 792.4C1496 792.9 1504.3 794 1509.8 795.7C1515.3 797.4 1518.4 799.3 1523.1 802.4C1527.8 805.4 1535.5 812 1538 814" fill="none" stroke="#aaaaaa" stroke-width="8.8" stroke-linejoin="round"/>
</g>
<line x1="1438.8" y1="719.1" x2="1438.8" y2="913.5" stroke="#000" stroke-width="1.9" stroke-dasharray="7.2 7.3"/>
<line x1="1480.9" y1="719.1" x2="1480.9" y2="913.5" stroke="#000" stroke-width="1.9" stroke-dasharray="7.2 7.3"/>
<line x1="1515.3" y1="719.1" x2="1515.3" y2="913.5" stroke="#000" stroke-width="1.9" stroke-dasharray="7.2 7.3"/>
<rect x="1273.8" y="716.7" width="356.4" height="196.8" fill="none" stroke="#000" stroke-width="2.5"/>
<text transform="translate(1644.6 634.8) scale(1 1)" font-size="51" fill="#1a1a1a">h</text>
<text x="1948.6" y="686.9" font-size="25.4" fill="#000" text-anchor="middle">Fold change</text>
<rect x="1752.8" y="722.4" width="12.5" height="4.2" fill="#333"/><text x="1743.8" y="731.9" font-size="21.2" fill="#4d4d4d" text-anchor="end">256</text><rect x="1752.8" y="740.5" width="12.5" height="4.2" fill="#333"/><text x="1743.8" y="750" font-size="21.2" fill="#4d4d4d" text-anchor="end">128</text><rect x="1752.8" y="758.6" width="12.5" height="4.2" fill="#333"/><text x="1743.8" y="768.1" font-size="21.2" fill="#4d4d4d" text-anchor="end">64</text><rect x="1752.8" y="776.8" width="12.5" height="4.2" fill="#333"/><text x="1743.8" y="786.3" font-size="21.2" fill="#4d4d4d" text-anchor="end">32</text><rect x="1752.8" y="794.9" width="12.5" height="4.2" fill="#333"/><text x="1743.8" y="804.4" font-size="21.2" fill="#4d4d4d" text-anchor="end">16</text><rect x="1752.8" y="813" width="12.5" height="4.2" fill="#333"/><text x="1743.8" y="822.5" font-size="21.2" fill="#4d4d4d" text-anchor="end">8</text><rect x="1752.8" y="831.1" width="12.5" height="4.2" fill="#333"/><text x="1743.8" y="840.6" font-size="21.2" fill="#4d4d4d" text-anchor="end">4</text><rect x="1752.8" y="849.2" width="12.5" height="4.2" fill="#333"/><text x="1743.8" y="858.7" font-size="21.2" fill="#4d4d4d" text-anchor="end">2</text><rect x="1752.8" y="867.4" width="12.5" height="4.2" fill="#333"/><text x="1743.8" y="876.9" font-size="21.2" fill="#4d4d4d" text-anchor="end">1</text><rect x="1752.8" y="885.5" width="12.5" height="4.2" fill="#333"/><text x="1743.8" y="895" font-size="21.2" fill="#4d4d4d" text-anchor="end">0.5</text><rect x="1752.8" y="903.6" width="12.5" height="4.2" fill="#333"/><text x="1743.8" y="913.1" font-size="21.2" fill="#4d4d4d" text-anchor="end">0.25</text>
<rect x="1787.4" y="914.5" width="4.2" height="12" fill="#333"/><text transform="translate(1800.4 946.1) rotate(-45)" font-size="21.2" fill="#4d4d4d" text-anchor="end">1920</text><rect x="1826.4" y="914.5" width="4.2" height="12" fill="#333"/><text transform="translate(1839.4 946.1) rotate(-45)" font-size="21.2" fill="#4d4d4d" text-anchor="end">1930</text><rect x="1865.5" y="914.5" width="4.2" height="12" fill="#333"/><text transform="translate(1878.5 946.1) rotate(-45)" font-size="21.2" fill="#4d4d4d" text-anchor="end">1940</text><rect x="1904.6" y="914.5" width="4.2" height="12" fill="#333"/><text transform="translate(1917.6 946.1) rotate(-45)" font-size="21.2" fill="#4d4d4d" text-anchor="end">1950</text><rect x="1943.7" y="914.5" width="4.2" height="12" fill="#333"/><text transform="translate(1956.7 946.1) rotate(-45)" font-size="21.2" fill="#4d4d4d" text-anchor="end">1960</text><rect x="1982.8" y="914.5" width="4.2" height="12" fill="#333"/><text transform="translate(1995.8 946.1) rotate(-45)" font-size="21.2" fill="#4d4d4d" text-anchor="end">1970</text><rect x="2021.9" y="914.5" width="4.2" height="12" fill="#333"/><text transform="translate(2034.9 946.1) rotate(-45)" font-size="21.2" fill="#4d4d4d" text-anchor="end">1980</text><rect x="2061" y="914.5" width="4.2" height="12" fill="#333"/><text transform="translate(2074 946.1) rotate(-45)" font-size="21.2" fill="#4d4d4d" text-anchor="end">1990</text><rect x="2100.1" y="914.5" width="4.2" height="12" fill="#333"/><text transform="translate(2113.1 946.1) rotate(-45)" font-size="21.2" fill="#4d4d4d" text-anchor="end">2000</text>
<text x="1948.2" y="1012.3" font-size="25.5" fill="#000" text-anchor="middle">Year of Birth</text>
<text transform="translate(1696.1 814.2) rotate(-90)" font-size="25.5" fill="#000" text-anchor="middle">Fold change</text>
<clipPath id="clip13"><rect x="1766" y="716.7" width="364.3" height="196.8"/></clipPath>
<g clip-path="url(#clip13)">
<g fill="#2d2d2d" fill-opacity="0.62" stroke="#2d2d2d" stroke-opacity="0.62" stroke-width="0.8"><circle cx="1781.3" cy="851" r="7.1"/><circle cx="1797.4" cy="832.3" r="7.1"/><circle cx="1796.6" cy="857.7" r="7.1"/><circle cx="1789.8" cy="862" r="7.1"/><circle cx="1796.6" cy="873" r="7.1"/><circle cx="1805" cy="804.3" r="7.1"/><circle cx="1805" cy="866.2" r="7.1"/><circle cx="1809.3" cy="837.4" r="7.1"/><circle cx="1812.7" cy="817.9" r="7.1"/><circle cx="1813.5" cy="850.1" r="7.1"/><circle cx="1816.9" cy="851.8" r="7.1"/><circle cx="1824.6" cy="791.5" r="7.1"/><circle cx="1828.8" cy="822.9" r="7.1"/><circle cx="1825.4" cy="843.3" r="7.1"/><circle cx="1833.1" cy="862" r="7.1"/><circle cx="1835.6" cy="856.9" r="7.1"/><circle cx="1844.1" cy="870.5" r="7.1"/><circle cx="1849.2" cy="877.3" r="7.1"/><circle cx="1844.1" cy="838.2" r="7.1"/><circle cx="1848.3" cy="828" r="7.1"/><circle cx="1856" cy="816.2" r="7.1"/><circle cx="1854.3" cy="833.1" r="7.1"/><circle cx="1863.6" cy="810.2" r="7.1"/><circle cx="1860.2" cy="833.1" r="7.1"/><circle cx="1867.9" cy="831.4" r="7.1"/><circle cx="1852.6" cy="858.6" r="7.1"/><circle cx="1863.6" cy="855.2" r="7.1"/><circle cx="1867.9" cy="862" r="7.1"/><circle cx="1874.6" cy="841.6" r="7.1"/><circle cx="1883.1" cy="823.8" r="7.1"/><circle cx="1886.5" cy="850.1" r="7.1"/><circle cx="1891.6" cy="854.3" r="7.1"/><circle cx="1890.8" cy="841.6" r="7.1"/><circle cx="1898.4" cy="851.8" r="7.1"/><circle cx="1900.1" cy="806" r="7.1"/><circle cx="1902.6" cy="800" r="7.1"/><circle cx="1906.9" cy="809.4" r="7.1"/><circle cx="1911.1" cy="817.9" r="7.1"/><circle cx="1910.3" cy="845" r="7.1"/><circle cx="1914.5" cy="845" r="7.1"/><circle cx="1922.2" cy="817.9" r="7.1"/><circle cx="1923.9" cy="845" r="7.1"/><circle cx="1927.3" cy="856.9" r="7.1"/><circle cx="1934.9" cy="807.7" r="7.1"/><circle cx="1934.9" cy="849.3" r="7.1"/><circle cx="1942.5" cy="838.2" r="7.1"/><circle cx="1940.8" cy="792.4" r="7.1"/><circle cx="1945.9" cy="797.5" r="7.1"/><circle cx="1953.6" cy="789" r="7.1"/><circle cx="1940.8" cy="834.8" r="7.1"/><circle cx="1961.2" cy="806.8" r="7.1"/><circle cx="1962.1" cy="863.7" r="7.1"/><circle cx="1969.7" cy="816.2" r="7.1"/><circle cx="1970.5" cy="859.4" r="7.1"/><circle cx="1973.1" cy="782.2" r="7.1"/><circle cx="1973.9" cy="787.3" r="7.1"/><circle cx="1973.9" cy="835.7" r="7.1"/><circle cx="1977.3" cy="799.2" r="7.1"/><circle cx="1989.2" cy="772" r="7.1"/><circle cx="1993.5" cy="771.2" r="7.1"/><circle cx="1989.2" cy="800.9" r="7.1"/><circle cx="1992.6" cy="826.3" r="7.1"/><circle cx="1996.9" cy="818.7" r="7.1"/><circle cx="2001.1" cy="844.2" r="7.1"/><circle cx="2005.3" cy="854.3" r="7.1"/><circle cx="2008.7" cy="834.8" r="7.1"/><circle cx="2013" cy="766.9" r="7.1"/><circle cx="2017.2" cy="782.2" r="7.1"/><circle cx="2017.2" cy="791.5" r="7.1"/><circle cx="2024" cy="793.2" r="7.1"/><circle cx="2028.3" cy="862.8" r="7.1"/><circle cx="2027.4" cy="833.1" r="7.1"/><circle cx="2036.8" cy="825.5" r="7.1"/><circle cx="2036.8" cy="839.1" r="7.1"/><circle cx="1828.8" cy="879.8" r="7.1"/></g>
<g fill="#506496" fill-opacity="0.5" stroke="#506496" stroke-opacity="0.5" stroke-width="0.8"><circle cx="2086.8" cy="735.5" r="7.1"/><circle cx="2086.8" cy="746.6" r="7.1"/><circle cx="2091.1" cy="757.6" r="7.1"/><circle cx="2103" cy="754.2" r="7.1"/><circle cx="2099.6" cy="762.7" r="7.1"/><circle cx="2110.6" cy="769.5" r="7.1"/><circle cx="2103" cy="777.1" r="7.1"/><circle cx="2114.8" cy="786.4" r="7.1"/><circle cx="2099.6" cy="789" r="7.1"/><circle cx="2107.2" cy="802.6" r="7.1"/><circle cx="2107.2" cy="813.6" r="7.1"/><circle cx="2095.3" cy="838.2" r="7.1"/></g>
<path d="M1782.1 828C1785.1 829.2 1794.2 834.3 1800 834.8C1805.7 835.4 1810.7 830.9 1816.9 831.4C1823.1 832 1830.5 838.2 1837.3 838.2C1844.1 838.2 1851.2 833.7 1857.7 831.4C1864.2 829.2 1869.5 826.3 1876.3 824.6C1883.1 822.9 1891.3 822.4 1898.4 821.2C1905.5 820.1 1912.8 818.7 1918.8 817.9C1924.7 817 1928.4 817.9 1934.1 816.2C1939.7 814.5 1946.8 810.5 1952.7 807.7C1958.7 804.8 1964 801.2 1969.7 799.2C1975.4 797.2 1980.5 795.8 1986.7 795.8C1992.9 795.8 2001.4 797.9 2007 799.2C2012.7 800.5 2015.8 802 2020.6 803.4C2025.4 804.8 2033.4 807 2035.9 807.7L2035.9 853.5C2033.4 850.1 2025.4 838.5 2020.6 833.1C2015.8 827.8 2012.7 823.8 2007 821.2C2001.4 818.7 1992.9 817.9 1986.7 817.9C1980.5 817.9 1975.4 819 1969.7 821.2C1964 823.5 1958.7 828.6 1952.7 831.4C1946.8 834.3 1939.7 836.8 1934.1 838.2C1928.4 839.6 1924.7 839.1 1918.8 839.9C1912.8 840.8 1905.5 842.2 1898.4 843.3C1891.3 844.4 1883.1 845 1876.3 846.7C1869.5 848.4 1864.2 851.8 1857.7 853.5C1851.2 855.2 1844.1 856.9 1837.3 856.9C1830.5 856.9 1823.1 853.5 1816.9 853.5C1810.7 853.5 1805.7 850.4 1800 856.9C1794.2 863.4 1785.1 886.6 1782.1 892.5Z" fill="#999" fill-opacity="0.4"/>
<path d="M1781.3 857.7C1784.4 855.6 1794 847.7 1800 845C1805.9 842.3 1810.7 841 1816.9 841.6C1823.1 842.2 1830.5 848.1 1837.3 848.4C1844.1 848.7 1851.2 845.3 1857.7 843.3C1864.2 841.3 1869.5 838.2 1876.3 836.5C1883.1 834.8 1891.3 834.1 1898.4 833.1C1905.5 832.1 1912.8 831.4 1918.8 830.6C1924.7 829.7 1928.4 829.9 1934.1 828C1939.7 826.2 1946.8 822.7 1952.7 819.5C1958.7 816.4 1964 811.5 1969.7 809.4C1975.4 807.2 1980.5 806.5 1986.7 806.8C1992.9 807.1 2001.4 809.2 2007 811.1C2012.7 812.9 2015.8 814.9 2020.6 817.9C2025.4 820.8 2033.4 827 2035.9 828.9" fill="none" stroke="#aaaaaa" stroke-width="8.8" stroke-linejoin="round"/>
</g>
<line x1="1934.7" y1="719.1" x2="1934.7" y2="913.5" stroke="#000" stroke-width="1.9" stroke-dasharray="7.2 7.3"/>
<line x1="1977.7" y1="719.1" x2="1977.7" y2="913.5" stroke="#000" stroke-width="1.9" stroke-dasharray="7.2 7.3"/>
<line x1="2012.9" y1="719.1" x2="2012.9" y2="913.5" stroke="#000" stroke-width="1.9" stroke-dasharray="7.2 7.3"/>
<rect x="1766" y="716.7" width="364.3" height="196.8" fill="none" stroke="#000" stroke-width="2.5"/>
<text x="883.7" y="1094.8" font-size="29.6" fill="#111">Clade 2.3.4.4b H5 binding antibody</text>
<line x1="3.7" y1="1121" x2="2163.4" y2="1121" stroke="#111" stroke-width="2.3" stroke-linecap="round"/>
<text transform="translate(2.4 1169.8) scale(1 1)" font-size="51" fill="#1a1a1a">i</text>
<text x="359.4" y="1222.2" font-size="25.4" fill="#000" text-anchor="middle">Day 0</text>
<rect x="167.5" y="1257.7" width="12.5" height="4.2" fill="#333"/><text x="158.5" y="1267.2" font-size="21.2" fill="#4d4d4d" text-anchor="end">131072</text><rect x="167.5" y="1275.8" width="12.5" height="4.2" fill="#333"/><text x="158.5" y="1285.3" font-size="21.2" fill="#4d4d4d" text-anchor="end">65536</text><rect x="167.5" y="1293.9" width="12.5" height="4.2" fill="#333"/><text x="158.5" y="1303.4" font-size="21.2" fill="#4d4d4d" text-anchor="end">32768</text><rect x="167.5" y="1312.1" width="12.5" height="4.2" fill="#333"/><text x="158.5" y="1321.6" font-size="21.2" fill="#4d4d4d" text-anchor="end">16384</text><rect x="167.5" y="1330.2" width="12.5" height="4.2" fill="#333"/><text x="158.5" y="1339.7" font-size="21.2" fill="#4d4d4d" text-anchor="end">8192</text><rect x="167.5" y="1348.3" width="12.5" height="4.2" fill="#333"/><text x="158.5" y="1357.8" font-size="21.2" fill="#4d4d4d" text-anchor="end">4096</text><rect x="167.5" y="1366.4" width="12.5" height="4.2" fill="#333"/><text x="158.5" y="1375.9" font-size="21.2" fill="#4d4d4d" text-anchor="end">2048</text><rect x="167.5" y="1384.5" width="12.5" height="4.2" fill="#333"/><text x="158.5" y="1394" font-size="21.2" fill="#4d4d4d" text-anchor="end">1024</text><rect x="167.5" y="1402.7" width="12.5" height="4.2" fill="#333"/><text x="158.5" y="1412.2" font-size="21.2" fill="#4d4d4d" text-anchor="end">512</text><rect x="167.5" y="1420.8" width="12.5" height="4.2" fill="#333"/><text x="158.5" y="1430.3" font-size="21.2" fill="#4d4d4d" text-anchor="end">256</text><rect x="167.5" y="1438.9" width="12.5" height="4.2" fill="#333"/><text x="158.5" y="1448.4" font-size="21.2" fill="#4d4d4d" text-anchor="end">128</text>
<rect x="201.6" y="1449.8" width="4.2" height="12" fill="#333"/><text transform="translate(214.6 1481.4) rotate(-45)" font-size="21.2" fill="#4d4d4d" text-anchor="end">1920</text><rect x="239.8" y="1449.8" width="4.2" height="12" fill="#333"/><text transform="translate(252.8 1481.4) rotate(-45)" font-size="21.2" fill="#4d4d4d" text-anchor="end">1930</text><rect x="278.1" y="1449.8" width="4.2" height="12" fill="#333"/><text transform="translate(291.1 1481.4) rotate(-45)" font-size="21.2" fill="#4d4d4d" text-anchor="end">1940</text><rect x="316.3" y="1449.8" width="4.2" height="12" fill="#333"/><text transform="translate(329.3 1481.4) rotate(-45)" font-size="21.2" fill="#4d4d4d" text-anchor="end">1950</text><rect x="354.6" y="1449.8" width="4.2" height="12" fill="#333"/><text transform="translate(367.6 1481.4) rotate(-45)" font-size="21.2" fill="#4d4d4d" text-anchor="end">1960</text><rect x="392.8" y="1449.8" width="4.2" height="12" fill="#333"/><text transform="translate(405.8 1481.4) rotate(-45)" font-size="21.2" fill="#4d4d4d" text-anchor="end">1970</text><rect x="431.1" y="1449.8" width="4.2" height="12" fill="#333"/><text transform="translate(444.1 1481.4) rotate(-45)" font-size="21.2" fill="#4d4d4d" text-anchor="end">1980</text><rect x="469.3" y="1449.8" width="4.2" height="12" fill="#333"/><text transform="translate(482.3 1481.4) rotate(-45)" font-size="21.2" fill="#4d4d4d" text-anchor="end">1990</text><rect x="507.6" y="1449.8" width="4.2" height="12" fill="#333"/><text transform="translate(520.6 1481.4) rotate(-45)" font-size="21.2" fill="#4d4d4d" text-anchor="end">2000</text>
<text x="359" y="1547.6" font-size="25.5" fill="#000" text-anchor="middle">Year of Birth</text>
<text transform="translate(53.8 1352.6) rotate(-90)" font-size="25.6" fill="#000" text-anchor="middle">ELISA antibody titer</text>
<text transform="translate(81.3 1346.1) rotate(-90)" font-size="25.6" fill="#000" text-anchor="middle">(endpoint dilution)</text>
<clipPath id="clip20"><rect x="180.7" y="1252" width="356.5" height="196.8"/></clipPath>
<g clip-path="url(#clip20)">
<g fill="#2d2d2d" fill-opacity="0.62" stroke="#2d2d2d" stroke-opacity="0.62" stroke-width="0.8"><circle cx="195.9" cy="1328.4" r="7.1"/><circle cx="211.7" cy="1314.3" r="7.1"/><circle cx="210.9" cy="1342.5" r="7.1"/><circle cx="211.7" cy="1376.5" r="7.1"/><circle cx="203.4" cy="1409.8" r="7.1"/><circle cx="219.2" cy="1355" r="7.1"/><circle cx="221.7" cy="1334.2" r="7.1"/><circle cx="225.8" cy="1331.7" r="7.1"/><circle cx="230.8" cy="1335.9" r="7.1"/><circle cx="234.1" cy="1319.3" r="7.1"/><circle cx="239.1" cy="1338.4" r="7.1"/><circle cx="226.7" cy="1364.1" r="7.1"/><circle cx="238.3" cy="1358.3" r="7.1"/><circle cx="242.4" cy="1364.9" r="7.1"/><circle cx="247.4" cy="1358.3" r="7.1"/><circle cx="254.1" cy="1345.8" r="7.1"/><circle cx="257.4" cy="1330.9" r="7.1"/><circle cx="260.7" cy="1369.9" r="7.1"/><circle cx="267.4" cy="1341.7" r="7.1"/><circle cx="269" cy="1360.8" r="7.1"/><circle cx="273.2" cy="1345" r="7.1"/><circle cx="277.3" cy="1344.2" r="7.1"/><circle cx="280.6" cy="1355" r="7.1"/><circle cx="284" cy="1346.7" r="7.1"/><circle cx="288.9" cy="1345.8" r="7.1"/><circle cx="295.6" cy="1345" r="7.1"/><circle cx="298.9" cy="1357.4" r="7.1"/><circle cx="300.6" cy="1345.8" r="7.1"/><circle cx="307.2" cy="1340.8" r="7.1"/><circle cx="305.5" cy="1347.5" r="7.1"/><circle cx="274" cy="1350.8" r="7.1"/><circle cx="287.3" cy="1351.6" r="7.1"/><circle cx="297.2" cy="1350.8" r="7.1"/><circle cx="312.2" cy="1350" r="7.1"/><circle cx="312.2" cy="1358.3" r="7.1"/><circle cx="311.4" cy="1377.4" r="7.1"/><circle cx="315.5" cy="1393.1" r="7.1"/><circle cx="318.8" cy="1345.8" r="7.1"/><circle cx="323" cy="1369.9" r="7.1"/><circle cx="326.3" cy="1337.5" r="7.1"/><circle cx="333.8" cy="1355.8" r="7.1"/><circle cx="337.9" cy="1323.4" r="7.1"/><circle cx="337.9" cy="1340" r="7.1"/><circle cx="350.4" cy="1340" r="7.1"/><circle cx="353.7" cy="1346.7" r="7.1"/><circle cx="352.9" cy="1366.6" r="7.1"/><circle cx="364.5" cy="1386.5" r="7.1"/><circle cx="372" cy="1336.7" r="7.1"/><circle cx="372.8" cy="1394.8" r="7.1"/><circle cx="379.4" cy="1343.3" r="7.1"/><circle cx="380.3" cy="1394.8" r="7.1"/><circle cx="382.8" cy="1347.5" r="7.1"/><circle cx="383.6" cy="1383.2" r="7.1"/><circle cx="386.9" cy="1353.3" r="7.1"/><circle cx="388.6" cy="1355.8" r="7.1"/><circle cx="398.5" cy="1366.6" r="7.1"/><circle cx="400.2" cy="1408.1" r="7.1"/><circle cx="403.5" cy="1413.1" r="7.1"/><circle cx="406.8" cy="1405.6" r="7.1"/><circle cx="402.7" cy="1337.5" r="7.1"/><circle cx="411" cy="1361.6" r="7.1"/><circle cx="414.3" cy="1349.1" r="7.1"/><circle cx="418.5" cy="1368.2" r="7.1"/><circle cx="422.6" cy="1423.9" r="7.1"/><circle cx="425.9" cy="1406.4" r="7.1"/><circle cx="425.1" cy="1385.7" r="7.1"/><circle cx="434.2" cy="1391.5" r="7.1"/><circle cx="437.6" cy="1361.6" r="7.1"/><circle cx="437.6" cy="1364.9" r="7.1"/><circle cx="445" cy="1361.6" r="7.1"/><circle cx="445.9" cy="1386.5" r="7.1"/><circle cx="276.5" cy="1404.8" r="7.1"/></g>
<g fill="#506496" fill-opacity="0.5" stroke="#506496" stroke-opacity="0.5" stroke-width="0.8"><circle cx="506.5" cy="1380.7" r="7.1"/><circle cx="514.8" cy="1381.5" r="7.1"/><circle cx="494.8" cy="1409.8" r="7.1"/><circle cx="510.6" cy="1408.1" r="7.1"/><circle cx="502.3" cy="1419.7" r="7.1"/><circle cx="507.3" cy="1426.4" r="7.1"/><circle cx="499" cy="1435.5" r="7.1"/><circle cx="518.9" cy="1435.5" r="7.1"/><circle cx="521.4" cy="1434.7" r="7.1"/></g>
<path d="M196.8 1335C199.7 1336.1 208.5 1341 214.2 1341.7C219.9 1342.4 223.9 1338.9 230.8 1339.2C237.7 1339.5 247.7 1342.4 255.7 1343.3C263.8 1344.3 272.1 1344.7 279 1345C285.9 1345.3 290.9 1345 297.2 1345C303.6 1345 311.6 1345.7 317.2 1345C322.7 1344.3 325.7 1341.7 330.5 1340.8C335.2 1340 339.9 1338.5 345.4 1340C350.9 1341.5 357.9 1346.7 363.7 1350C369.5 1353.3 373.4 1356.9 380.3 1359.9C387.2 1363 398.3 1366.3 405.2 1368.2C412.1 1370.2 415.1 1370.7 421.8 1371.6C428.4 1372.4 441.2 1372.9 445 1373.2L445 1396.5C441.2 1395.6 428.4 1393.1 421.8 1391.5C415.1 1389.8 412.1 1387.9 405.2 1386.5C398.3 1385.1 387.2 1385.7 380.3 1383.2C373.4 1380.7 369.5 1375.7 363.7 1371.6C357.9 1367.4 350.9 1360.8 345.4 1358.3C339.9 1355.8 335.2 1355.9 330.5 1356.6C325.7 1357.3 322.7 1361 317.2 1362.4C311.6 1363.8 303.6 1364.6 297.2 1364.9C290.9 1365.2 285.9 1364.6 279 1364.1C272.1 1363.5 263.8 1363.1 255.7 1361.6C247.7 1360.1 237.7 1355.2 230.8 1355C223.9 1354.7 219.9 1355.2 214.2 1359.9C208.5 1364.6 199.7 1379.3 196.8 1383.2Z" fill="#999" fill-opacity="0.4"/>
<path d="M195.9 1356.6C199 1355.5 208.4 1351.6 214.2 1350C220 1348.3 223.9 1346.4 230.8 1346.7C237.7 1346.9 247.7 1350.4 255.7 1351.6C263.8 1352.9 272.1 1353.7 279 1354.1C285.9 1354.5 290.9 1354.3 297.2 1354.1C303.6 1354 311.6 1354.3 317.2 1353.3C322.7 1352.3 325.7 1349 330.5 1348.3C335.2 1347.6 341 1348 345.4 1349.1C349.8 1350.3 352.6 1352.3 357 1355C361.4 1357.6 366.7 1361.9 372 1364.9C377.2 1368 383 1371 388.6 1373.2C394.1 1375.4 399.6 1377 405.2 1378.2C410.7 1379.4 415.1 1380.7 421.8 1380.7C428.4 1380.7 441.2 1378.6 445 1378.2" fill="none" stroke="#aaaaaa" stroke-width="8.8" stroke-linejoin="round"/>
</g>
<line x1="345.8" y1="1254.4" x2="345.8" y2="1448.8" stroke="#000" stroke-width="1.9" stroke-dasharray="7.2 7.3"/>
<line x1="387.9" y1="1254.4" x2="387.9" y2="1448.8" stroke="#000" stroke-width="1.9" stroke-dasharray="7.2 7.3"/>
<line x1="422.3" y1="1254.4" x2="422.3" y2="1448.8" stroke="#000" stroke-width="1.9" stroke-dasharray="7.2 7.3"/>
<rect x="180.7" y="1252" width="356.5" height="196.8" fill="none" stroke="#000" stroke-width="2.5"/>
<text transform="translate(548.5 1169.8) scale(1 1)" font-size="51" fill="#1a1a1a">j</text>
<text x="905.7" y="1222.2" font-size="25.4" fill="#000" text-anchor="middle">Day 28 after prime</text>
<rect x="714" y="1257.7" width="12.5" height="4.2" fill="#333"/><text x="705" y="1267.2" font-size="21.2" fill="#4d4d4d" text-anchor="end">131072</text><rect x="714" y="1275.8" width="12.5" height="4.2" fill="#333"/><text x="705" y="1285.3" font-size="21.2" fill="#4d4d4d" text-anchor="end">65536</text><rect x="714" y="1293.9" width="12.5" height="4.2" fill="#333"/><text x="705" y="1303.4" font-size="21.2" fill="#4d4d4d" text-anchor="end">32768</text><rect x="714" y="1312.1" width="12.5" height="4.2" fill="#333"/><text x="705" y="1321.6" font-size="21.2" fill="#4d4d4d" text-anchor="end">16384</text><rect x="714" y="1330.2" width="12.5" height="4.2" fill="#333"/><text x="705" y="1339.7" font-size="21.2" fill="#4d4d4d" text-anchor="end">8192</text><rect x="714" y="1348.3" width="12.5" height="4.2" fill="#333"/><text x="705" y="1357.8" font-size="21.2" fill="#4d4d4d" text-anchor="end">4096</text><rect x="714" y="1366.4" width="12.5" height="4.2" fill="#333"/><text x="705" y="1375.9" font-size="21.2" fill="#4d4d4d" text-anchor="end">2048</text><rect x="714" y="1384.5" width="12.5" height="4.2" fill="#333"/><text x="705" y="1394" font-size="21.2" fill="#4d4d4d" text-anchor="end">1024</text><rect x="714" y="1402.7" width="12.5" height="4.2" fill="#333"/><text x="705" y="1412.2" font-size="21.2" fill="#4d4d4d" text-anchor="end">512</text><rect x="714" y="1420.8" width="12.5" height="4.2" fill="#333"/><text x="705" y="1430.3" font-size="21.2" fill="#4d4d4d" text-anchor="end">256</text><rect x="714" y="1438.9" width="12.5" height="4.2" fill="#333"/><text x="705" y="1448.4" font-size="21.2" fill="#4d4d4d" text-anchor="end">128</text>
<rect x="748" y="1449.8" width="4.2" height="12" fill="#333"/><text transform="translate(761 1481.4) rotate(-45)" font-size="21.2" fill="#4d4d4d" text-anchor="end">1920</text><rect x="786.3" y="1449.8" width="4.2" height="12" fill="#333"/><text transform="translate(799.3 1481.4) rotate(-45)" font-size="21.2" fill="#4d4d4d" text-anchor="end">1930</text><rect x="824.5" y="1449.8" width="4.2" height="12" fill="#333"/><text transform="translate(837.5 1481.4) rotate(-45)" font-size="21.2" fill="#4d4d4d" text-anchor="end">1940</text><rect x="862.7" y="1449.8" width="4.2" height="12" fill="#333"/><text transform="translate(875.7 1481.4) rotate(-45)" font-size="21.2" fill="#4d4d4d" text-anchor="end">1950</text><rect x="900.9" y="1449.8" width="4.2" height="12" fill="#333"/><text transform="translate(913.9 1481.4) rotate(-45)" font-size="21.2" fill="#4d4d4d" text-anchor="end">1960</text><rect x="939.1" y="1449.8" width="4.2" height="12" fill="#333"/><text transform="translate(952.1 1481.4) rotate(-45)" font-size="21.2" fill="#4d4d4d" text-anchor="end">1970</text><rect x="977.3" y="1449.8" width="4.2" height="12" fill="#333"/><text transform="translate(990.3 1481.4) rotate(-45)" font-size="21.2" fill="#4d4d4d" text-anchor="end">1980</text><rect x="1015.6" y="1449.8" width="4.2" height="12" fill="#333"/><text transform="translate(1028.6 1481.4) rotate(-45)" font-size="21.2" fill="#4d4d4d" text-anchor="end">1990</text><rect x="1053.8" y="1449.8" width="4.2" height="12" fill="#333"/><text transform="translate(1066.8 1481.4) rotate(-45)" font-size="21.2" fill="#4d4d4d" text-anchor="end">2000</text>
<text x="905.3" y="1547.6" font-size="25.5" fill="#000" text-anchor="middle">Year of Birth</text>
<text transform="translate(600.3 1352.6) rotate(-90)" font-size="25.6" fill="#000" text-anchor="middle">ELISA antibody titer</text>
<text transform="translate(627.8 1346.1) rotate(-90)" font-size="25.6" fill="#000" text-anchor="middle">(endpoint dilution)</text>
<clipPath id="clip21"><rect x="727.2" y="1252" width="356.2" height="196.8"/></clipPath>
<g clip-path="url(#clip21)">
<g fill="#2d2d2d" fill-opacity="0.62" stroke="#2d2d2d" stroke-opacity="0.62" stroke-width="0.8"><circle cx="741.9" cy="1315.9" r="7.1"/><circle cx="757.7" cy="1290.2" r="7.1"/><circle cx="756.9" cy="1323.4" r="7.1"/><circle cx="757.7" cy="1359.1" r="7.1"/><circle cx="750.2" cy="1395.6" r="7.1"/><circle cx="765.2" cy="1316.8" r="7.1"/><circle cx="769.3" cy="1350" r="7.1"/><circle cx="768.5" cy="1333.4" r="7.1"/><circle cx="771.8" cy="1320.1" r="7.1"/><circle cx="776.8" cy="1318.4" r="7.1"/><circle cx="780.1" cy="1311" r="7.1"/><circle cx="784.3" cy="1345.8" r="7.1"/><circle cx="787.6" cy="1319.3" r="7.1"/><circle cx="789.3" cy="1318.4" r="7.1"/><circle cx="791.8" cy="1362.4" r="7.1"/><circle cx="795.9" cy="1373.2" r="7.1"/><circle cx="800.1" cy="1347.5" r="7.1"/><circle cx="801.7" cy="1330" r="7.1"/><circle cx="806.7" cy="1320.1" r="7.1"/><circle cx="811.7" cy="1322.6" r="7.1"/><circle cx="815" cy="1320.9" r="7.1"/><circle cx="815" cy="1345" r="7.1"/><circle cx="818.3" cy="1328.4" r="7.1"/><circle cx="822.5" cy="1375.7" r="7.1"/><circle cx="826.6" cy="1325.1" r="7.1"/><circle cx="834.1" cy="1312.6" r="7.1"/><circle cx="836.6" cy="1321.7" r="7.1"/><circle cx="841.6" cy="1321.7" r="7.1"/><circle cx="843.2" cy="1340" r="7.1"/><circle cx="846.6" cy="1318.4" r="7.1"/><circle cx="849.9" cy="1341.7" r="7.1"/><circle cx="853.2" cy="1341.7" r="7.1"/><circle cx="858.2" cy="1341.7" r="7.1"/><circle cx="861.5" cy="1313.4" r="7.1"/><circle cx="864.8" cy="1294.3" r="7.1"/><circle cx="868.1" cy="1331.7" r="7.1"/><circle cx="869.8" cy="1311.8" r="7.1"/><circle cx="874.8" cy="1310.1" r="7.1"/><circle cx="879.8" cy="1336.7" r="7.1"/><circle cx="883.1" cy="1281.1" r="7.1"/><circle cx="886.4" cy="1340" r="7.1"/><circle cx="892.2" cy="1280.2" r="7.1"/><circle cx="895.5" cy="1290.2" r="7.1"/><circle cx="898.9" cy="1330" r="7.1"/><circle cx="904.7" cy="1315.9" r="7.1"/><circle cx="909.7" cy="1336.7" r="7.1"/><circle cx="918.8" cy="1314.3" r="7.1"/><circle cx="918.8" cy="1392.3" r="7.1"/><circle cx="926.3" cy="1331.7" r="7.1"/><circle cx="926.3" cy="1366.6" r="7.1"/><circle cx="929.6" cy="1359.9" r="7.1"/><circle cx="930.4" cy="1374.9" r="7.1"/><circle cx="932.9" cy="1321.7" r="7.1"/><circle cx="933.7" cy="1302.6" r="7.1"/><circle cx="942.9" cy="1350" r="7.1"/><circle cx="945.4" cy="1333.4" r="7.1"/><circle cx="946.2" cy="1321.7" r="7.1"/><circle cx="948.7" cy="1315.9" r="7.1"/><circle cx="949.5" cy="1374.1" r="7.1"/><circle cx="952.8" cy="1398.1" r="7.1"/><circle cx="957" cy="1315.9" r="7.1"/><circle cx="960.3" cy="1328.4" r="7.1"/><circle cx="964.5" cy="1342.5" r="7.1"/><circle cx="968.6" cy="1380.7" r="7.1"/><circle cx="971.9" cy="1329.2" r="7.1"/><circle cx="979.4" cy="1335" r="7.1"/><circle cx="983.6" cy="1342.5" r="7.1"/><circle cx="991.9" cy="1329.2" r="7.1"/><circle cx="983.6" cy="1365.7" r="7.1"/><circle cx="991.9" cy="1372.4" r="7.1"/></g>
<g fill="#506496" fill-opacity="0.5" stroke="#506496" stroke-opacity="0.5" stroke-width="0.8"><circle cx="1052.5" cy="1311.8" r="7.1"/><circle cx="1064.1" cy="1318.4" r="7.1"/><circle cx="1056.6" cy="1343.3" r="7.1"/><circle cx="1053.3" cy="1350" r="7.1"/><circle cx="1040.8" cy="1370.7" r="7.1"/><circle cx="1040.8" cy="1379" r="7.1"/><circle cx="1057.5" cy="1373.2" r="7.1"/><circle cx="1060.8" cy="1374.9" r="7.1"/><circle cx="1068.2" cy="1394.8" r="7.1"/></g>
<path d="M742.8 1305.1C745.7 1308.5 754.5 1321.5 760.2 1325.1C765.9 1328.7 769.9 1325.9 776.8 1326.7C783.7 1327.6 793.7 1330 801.7 1330C809.8 1330 818.1 1327.8 825 1326.7C831.9 1325.6 836.9 1325.1 843.2 1323.4C849.6 1321.7 857.1 1320.4 863.2 1316.8C869.3 1313.2 875.1 1304.4 879.8 1301.8C884.5 1299.2 886.4 1297.1 891.4 1301C896.4 1304.9 903.9 1319.9 909.7 1325.1C915.5 1330.2 919.4 1329.5 926.3 1331.7C933.2 1333.9 944.3 1336.4 951.2 1338.4C958.1 1340.3 961.1 1341.9 967.8 1343.3C974.4 1344.7 987.2 1346.1 991 1346.7L991 1384C987.2 1381.4 974.4 1371.7 967.8 1368.2C961.1 1364.8 958.1 1365.5 951.2 1363.3C944.3 1361 933.2 1357.4 926.3 1355C919.4 1352.5 915.5 1353 909.7 1348.3C903.9 1343.6 896.4 1330.3 891.4 1326.7C886.4 1323.1 884.5 1325.3 879.8 1326.7C875.1 1328.1 869.3 1332.5 863.2 1335C857.1 1337.5 849.6 1340 843.2 1341.7C836.9 1343.3 831.9 1343.9 825 1345C818.1 1346.1 809.8 1348.6 801.7 1348.3C793.7 1348 783.7 1343.9 776.8 1343.3C769.9 1342.8 765.9 1340 760.2 1345C754.5 1350 745.7 1368.5 742.8 1373.2Z" fill="#999" fill-opacity="0.4"/>
<path d="M741.9 1338.4C745 1337.5 754.4 1334.2 760.2 1333.4C766 1332.5 769.9 1332.4 776.8 1333.4C783.7 1334.3 793.7 1339 801.7 1339.2C809.8 1339.3 818.1 1335.7 825 1334.2C831.9 1332.7 836.9 1331.6 843.2 1330C849.6 1328.5 857.1 1327.6 863.2 1325.1C869.3 1322.6 875.1 1317 879.8 1315.1C884.5 1313.2 887.8 1312.3 891.4 1313.4C895 1314.5 896.9 1317.9 901.4 1321.7C905.8 1325.6 912.4 1332.8 918 1336.7C923.5 1340.6 929 1342.5 934.6 1345C940.1 1347.5 945.6 1350 951.2 1351.6C956.7 1353.3 961.1 1354 967.8 1355C974.4 1355.9 987.2 1357 991 1357.4" fill="none" stroke="#aaaaaa" stroke-width="8.8" stroke-linejoin="round"/>
</g>
<line x1="892.1" y1="1254.4" x2="892.1" y2="1448.8" stroke="#000" stroke-width="1.9" stroke-dasharray="7.2 7.3"/>
<line x1="934.2" y1="1254.4" x2="934.2" y2="1448.8" stroke="#000" stroke-width="1.9" stroke-dasharray="7.2 7.3"/>
<line x1="968.6" y1="1254.4" x2="968.6" y2="1448.8" stroke="#000" stroke-width="1.9" stroke-dasharray="7.2 7.3"/>
<rect x="727.2" y="1252" width="356.2" height="196.8" fill="none" stroke="#000" stroke-width="2.5"/>
<text transform="translate(1095 1169.8) scale(1 1)" font-size="51" fill="#1a1a1a">k</text>
<text x="1452.4" y="1222.2" font-size="25.4" fill="#000" text-anchor="middle">Day 28 after boost</text>
<rect x="1260.6" y="1257.7" width="12.5" height="4.2" fill="#333"/><text x="1251.6" y="1267.2" font-size="21.2" fill="#4d4d4d" text-anchor="end">131072</text><rect x="1260.6" y="1275.8" width="12.5" height="4.2" fill="#333"/><text x="1251.6" y="1285.3" font-size="21.2" fill="#4d4d4d" text-anchor="end">65536</text><rect x="1260.6" y="1293.9" width="12.5" height="4.2" fill="#333"/><text x="1251.6" y="1303.4" font-size="21.2" fill="#4d4d4d" text-anchor="end">32768</text><rect x="1260.6" y="1312.1" width="12.5" height="4.2" fill="#333"/><text x="1251.6" y="1321.6" font-size="21.2" fill="#4d4d4d" text-anchor="end">16384</text><rect x="1260.6" y="1330.2" width="12.5" height="4.2" fill="#333"/><text x="1251.6" y="1339.7" font-size="21.2" fill="#4d4d4d" text-anchor="end">8192</text><rect x="1260.6" y="1348.3" width="12.5" height="4.2" fill="#333"/><text x="1251.6" y="1357.8" font-size="21.2" fill="#4d4d4d" text-anchor="end">4096</text><rect x="1260.6" y="1366.4" width="12.5" height="4.2" fill="#333"/><text x="1251.6" y="1375.9" font-size="21.2" fill="#4d4d4d" text-anchor="end">2048</text><rect x="1260.6" y="1384.5" width="12.5" height="4.2" fill="#333"/><text x="1251.6" y="1394" font-size="21.2" fill="#4d4d4d" text-anchor="end">1024</text><rect x="1260.6" y="1402.7" width="12.5" height="4.2" fill="#333"/><text x="1251.6" y="1412.2" font-size="21.2" fill="#4d4d4d" text-anchor="end">512</text><rect x="1260.6" y="1420.8" width="12.5" height="4.2" fill="#333"/><text x="1251.6" y="1430.3" font-size="21.2" fill="#4d4d4d" text-anchor="end">256</text><rect x="1260.6" y="1438.9" width="12.5" height="4.2" fill="#333"/><text x="1251.6" y="1448.4" font-size="21.2" fill="#4d4d4d" text-anchor="end">128</text>
<rect x="1294.6" y="1449.8" width="4.2" height="12" fill="#333"/><text transform="translate(1307.6 1481.4) rotate(-45)" font-size="21.2" fill="#4d4d4d" text-anchor="end">1920</text><rect x="1332.9" y="1449.8" width="4.2" height="12" fill="#333"/><text transform="translate(1345.9 1481.4) rotate(-45)" font-size="21.2" fill="#4d4d4d" text-anchor="end">1930</text><rect x="1371.1" y="1449.8" width="4.2" height="12" fill="#333"/><text transform="translate(1384.1 1481.4) rotate(-45)" font-size="21.2" fill="#4d4d4d" text-anchor="end">1940</text><rect x="1409.4" y="1449.8" width="4.2" height="12" fill="#333"/><text transform="translate(1422.4 1481.4) rotate(-45)" font-size="21.2" fill="#4d4d4d" text-anchor="end">1950</text><rect x="1447.6" y="1449.8" width="4.2" height="12" fill="#333"/><text transform="translate(1460.6 1481.4) rotate(-45)" font-size="21.2" fill="#4d4d4d" text-anchor="end">1960</text><rect x="1485.8" y="1449.8" width="4.2" height="12" fill="#333"/><text transform="translate(1498.8 1481.4) rotate(-45)" font-size="21.2" fill="#4d4d4d" text-anchor="end">1970</text><rect x="1524.1" y="1449.8" width="4.2" height="12" fill="#333"/><text transform="translate(1537.1 1481.4) rotate(-45)" font-size="21.2" fill="#4d4d4d" text-anchor="end">1980</text><rect x="1562.3" y="1449.8" width="4.2" height="12" fill="#333"/><text transform="translate(1575.3 1481.4) rotate(-45)" font-size="21.2" fill="#4d4d4d" text-anchor="end">1990</text><rect x="1600.6" y="1449.8" width="4.2" height="12" fill="#333"/><text transform="translate(1613.6 1481.4) rotate(-45)" font-size="21.2" fill="#4d4d4d" text-anchor="end">2000</text>
<text x="1452" y="1547.6" font-size="25.5" fill="#000" text-anchor="middle">Year of Birth</text>
<text transform="translate(1146.9 1352.6) rotate(-90)" font-size="25.6" fill="#000" text-anchor="middle">ELISA antibody titer</text>
<text transform="translate(1174.4 1346.1) rotate(-90)" font-size="25.6" fill="#000" text-anchor="middle">(endpoint dilution)</text>
<clipPath id="clip22"><rect x="1273.8" y="1252" width="356.4" height="196.8"/></clipPath>
<g clip-path="url(#clip22)">
<g fill="#2d2d2d" fill-opacity="0.62" stroke="#2d2d2d" stroke-opacity="0.62" stroke-width="0.8"><circle cx="1288.9" cy="1320.9" r="7.1"/><circle cx="1303.9" cy="1299.3" r="7.1"/><circle cx="1303.1" cy="1310.1" r="7.1"/><circle cx="1296.4" cy="1347.5" r="7.1"/><circle cx="1303.9" cy="1369.1" r="7.1"/><circle cx="1312.2" cy="1306.8" r="7.1"/><circle cx="1315.5" cy="1327.6" r="7.1"/><circle cx="1315.5" cy="1349.1" r="7.1"/><circle cx="1320.5" cy="1308.5" r="7.1"/><circle cx="1323.8" cy="1305.1" r="7.1"/><circle cx="1328.8" cy="1317.6" r="7.1"/><circle cx="1331.3" cy="1291.9" r="7.1"/><circle cx="1330.5" cy="1338.4" r="7.1"/><circle cx="1335.4" cy="1322.6" r="7.1"/><circle cx="1338.8" cy="1356.6" r="7.1"/><circle cx="1342.1" cy="1351.6" r="7.1"/><circle cx="1345.4" cy="1345" r="7.1"/><circle cx="1347.1" cy="1350" r="7.1"/><circle cx="1353.7" cy="1323.4" r="7.1"/><circle cx="1352.9" cy="1342.5" r="7.1"/><circle cx="1362" cy="1301.8" r="7.1"/><circle cx="1362" cy="1310.1" r="7.1"/><circle cx="1364.5" cy="1338.4" r="7.1"/><circle cx="1369.5" cy="1354.1" r="7.1"/><circle cx="1370.3" cy="1337.5" r="7.1"/><circle cx="1373.6" cy="1315.1" r="7.1"/><circle cx="1380.3" cy="1316.8" r="7.1"/><circle cx="1385.3" cy="1308.5" r="7.1"/><circle cx="1388.6" cy="1291" r="7.1"/><circle cx="1390.2" cy="1331.7" r="7.1"/><circle cx="1396.1" cy="1352.5" r="7.1"/><circle cx="1398.5" cy="1341.7" r="7.1"/><circle cx="1405.2" cy="1350" r="7.1"/><circle cx="1406" cy="1335" r="7.1"/><circle cx="1406.8" cy="1324.2" r="7.1"/><circle cx="1411" cy="1286" r="7.1"/><circle cx="1415.1" cy="1309.3" r="7.1"/><circle cx="1416" cy="1336.7" r="7.1"/><circle cx="1416.8" cy="1312.6" r="7.1"/><circle cx="1426.8" cy="1340.8" r="7.1"/><circle cx="1430.1" cy="1298.5" r="7.1"/><circle cx="1430.9" cy="1324.2" r="7.1"/><circle cx="1438.4" cy="1258.6" r="7.1"/><circle cx="1439.2" cy="1333.4" r="7.1"/><circle cx="1441.7" cy="1294.3" r="7.1"/><circle cx="1445.9" cy="1331.7" r="7.1"/><circle cx="1450" cy="1305.1" r="7.1"/><circle cx="1456.7" cy="1331.7" r="7.1"/><circle cx="1465" cy="1368.2" r="7.1"/><circle cx="1473.3" cy="1357.4" r="7.1"/><circle cx="1476.6" cy="1321.7" r="7.1"/><circle cx="1479.9" cy="1288.5" r="7.1"/><circle cx="1490.7" cy="1327.6" r="7.1"/><circle cx="1492.4" cy="1342.5" r="7.1"/><circle cx="1495.7" cy="1311" r="7.1"/><circle cx="1496.5" cy="1347.5" r="7.1"/><circle cx="1504" cy="1331.7" r="7.1"/><circle cx="1511.5" cy="1352.5" r="7.1"/><circle cx="1513.1" cy="1341.7" r="7.1"/><circle cx="1518.9" cy="1311" r="7.1"/><circle cx="1519.8" cy="1330" r="7.1"/><circle cx="1526.4" cy="1335" r="7.1"/><circle cx="1530.6" cy="1337.5" r="7.1"/><circle cx="1538.9" cy="1335.9" r="7.1"/><circle cx="1530.6" cy="1368.2" r="7.1"/><circle cx="1538" cy="1379" r="7.1"/></g>
<g fill="#506496" fill-opacity="0.5" stroke="#506496" stroke-opacity="0.5" stroke-width="0.8"><circle cx="1599.5" cy="1299.3" r="7.1"/><circle cx="1587.8" cy="1310.1" r="7.1"/><circle cx="1587.8" cy="1316.8" r="7.1"/><circle cx="1603.6" cy="1318.4" r="7.1"/><circle cx="1603.6" cy="1320.1" r="7.1"/><circle cx="1591.2" cy="1335" r="7.1"/><circle cx="1611.1" cy="1335.9" r="7.1"/><circle cx="1615.2" cy="1360.8" r="7.1"/><circle cx="1606.9" cy="1365.7" r="7.1"/><circle cx="1599.5" cy="1370.7" r="7.1"/><circle cx="1606.9" cy="1375.7" r="7.1"/><circle cx="1595.3" cy="1414.7" r="7.1"/></g>
<path d="M1289.8 1307.6C1292.7 1309.2 1301.5 1315 1307.2 1316.8C1312.9 1318.6 1316.9 1316.5 1323.8 1318.4C1330.7 1320.4 1340.4 1328.9 1348.7 1328.4C1357 1327.8 1366.7 1316.9 1373.6 1315.1C1380.6 1313.3 1384.2 1317.2 1390.2 1317.6C1396.3 1318 1404.6 1319.1 1410.2 1317.6C1415.7 1316.1 1418.7 1310.5 1423.5 1308.5C1428.2 1306.4 1432.9 1303.9 1438.4 1305.1C1443.9 1306.4 1450.9 1312.9 1456.7 1315.9C1462.5 1319 1467.7 1321.9 1473.3 1323.4C1478.8 1324.9 1483.8 1324.5 1489.9 1325.1C1496 1325.6 1504.3 1326 1509.8 1326.7C1515.3 1327.4 1518.4 1328.1 1523.1 1329.2C1527.8 1330.3 1535.5 1332.7 1538 1333.4L1538 1361.6C1535.5 1360.2 1527.8 1356.1 1523.1 1353.3C1518.4 1350.5 1515.3 1347.2 1509.8 1345C1504.3 1342.8 1496 1341.1 1489.9 1340C1483.8 1338.9 1478.8 1340 1473.3 1338.4C1467.7 1336.7 1462.5 1333.6 1456.7 1330C1450.9 1326.4 1443.9 1317.9 1438.4 1316.8C1432.9 1315.7 1428.2 1320.9 1423.5 1323.4C1418.7 1325.9 1415.7 1330 1410.2 1331.7C1404.6 1333.4 1396.3 1333.6 1390.2 1333.4C1384.2 1333.1 1380.6 1328.1 1373.6 1330C1366.7 1332 1357 1343.9 1348.7 1345C1340.4 1346.1 1330.7 1338.4 1323.8 1336.7C1316.9 1335 1312.9 1331.4 1307.2 1335C1301.5 1338.6 1292.7 1354.4 1289.8 1358.3Z" fill="#999" fill-opacity="0.4"/>
<path d="M1288.9 1331.7C1292 1330.6 1301.4 1325.9 1307.2 1325.1C1313 1324.2 1316.9 1324.7 1323.8 1326.7C1330.7 1328.8 1340.4 1338.4 1348.7 1337.5C1357 1336.7 1366.7 1323.8 1373.6 1321.7C1380.6 1319.7 1384.2 1324.5 1390.2 1325.1C1396.3 1325.6 1404.6 1326.6 1410.2 1325.1C1415.7 1323.5 1418.7 1318.4 1423.5 1315.9C1428.2 1313.4 1432.9 1308.9 1438.4 1310.1C1443.9 1311.4 1450.9 1320.1 1456.7 1323.4C1462.5 1326.7 1467.7 1328.5 1473.3 1330C1478.8 1331.6 1483.8 1331.4 1489.9 1332.5C1496 1333.6 1504.3 1335 1509.8 1336.7C1515.3 1338.4 1518.4 1339.9 1523.1 1342.5C1527.8 1345.1 1535.5 1350.8 1538 1352.5" fill="none" stroke="#aaaaaa" stroke-width="8.8" stroke-linejoin="round"/>
</g>
<line x1="1438.8" y1="1254.4" x2="1438.8" y2="1448.8" stroke="#000" stroke-width="1.9" stroke-dasharray="7.2 7.3"/>
<line x1="1480.9" y1="1254.4" x2="1480.9" y2="1448.8" stroke="#000" stroke-width="1.9" stroke-dasharray="7.2 7.3"/>
<line x1="1515.3" y1="1254.4" x2="1515.3" y2="1448.8" stroke="#000" stroke-width="1.9" stroke-dasharray="7.2 7.3"/>
<rect x="1273.8" y="1252" width="356.4" height="196.8" fill="none" stroke="#000" stroke-width="2.5"/>
<text transform="translate(1644.6 1169.8) scale(1 1)" font-size="51" fill="#1a1a1a">l</text>
<text x="1948.6" y="1222.2" font-size="25.4" fill="#000" text-anchor="middle">Fold change</text>
<rect x="1752.8" y="1257.7" width="12.5" height="4.2" fill="#333"/><text x="1743.8" y="1267.2" font-size="21.2" fill="#4d4d4d" text-anchor="end">256</text><rect x="1752.8" y="1275.8" width="12.5" height="4.2" fill="#333"/><text x="1743.8" y="1285.3" font-size="21.2" fill="#4d4d4d" text-anchor="end">128</text><rect x="1752.8" y="1293.9" width="12.5" height="4.2" fill="#333"/><text x="1743.8" y="1303.4" font-size="21.2" fill="#4d4d4d" text-anchor="end">64</text><rect x="1752.8" y="1312.1" width="12.5" height="4.2" fill="#333"/><text x="1743.8" y="1321.6" font-size="21.2" fill="#4d4d4d" text-anchor="end">32</text><rect x="1752.8" y="1330.2" width="12.5" height="4.2" fill="#333"/><text x="1743.8" y="1339.7" font-size="21.2" fill="#4d4d4d" text-anchor="end">16</text><rect x="1752.8" y="1348.3" width="12.5" height="4.2" fill="#333"/><text x="1743.8" y="1357.8" font-size="21.2" fill="#4d4d4d" text-anchor="end">8</text><rect x="1752.8" y="1366.4" width="12.5" height="4.2" fill="#333"/><text x="1743.8" y="1375.9" font-size="21.2" fill="#4d4d4d" text-anchor="end">4</text><rect x="1752.8" y="1384.5" width="12.5" height="4.2" fill="#333"/><text x="1743.8" y="1394" font-size="21.2" fill="#4d4d4d" text-anchor="end">2</text><rect x="1752.8" y="1402.7" width="12.5" height="4.2" fill="#333"/><text x="1743.8" y="1412.2" font-size="21.2" fill="#4d4d4d" text-anchor="end">1</text><rect x="1752.8" y="1420.8" width="12.5" height="4.2" fill="#333"/><text x="1743.8" y="1430.3" font-size="21.2" fill="#4d4d4d" text-anchor="end">0.5</text><rect x="1752.8" y="1438.9" width="12.5" height="4.2" fill="#333"/><text x="1743.8" y="1448.4" font-size="21.2" fill="#4d4d4d" text-anchor="end">0.25</text>
<rect x="1787.4" y="1449.8" width="4.2" height="12" fill="#333"/><text transform="translate(1800.4 1481.4) rotate(-45)" font-size="21.2" fill="#4d4d4d" text-anchor="end">1920</text><rect x="1826.4" y="1449.8" width="4.2" height="12" fill="#333"/><text transform="translate(1839.4 1481.4) rotate(-45)" font-size="21.2" fill="#4d4d4d" text-anchor="end">1930</text><rect x="1865.5" y="1449.8" width="4.2" height="12" fill="#333"/><text transform="translate(1878.5 1481.4) rotate(-45)" font-size="21.2" fill="#4d4d4d" text-anchor="end">1940</text><rect x="1904.6" y="1449.8" width="4.2" height="12" fill="#333"/><text transform="translate(1917.6 1481.4) rotate(-45)" font-size="21.2" fill="#4d4d4d" text-anchor="end">1950</text><rect x="1943.7" y="1449.8" width="4.2" height="12" fill="#333"/><text transform="translate(1956.7 1481.4) rotate(-45)" font-size="21.2" fill="#4d4d4d" text-anchor="end">1960</text><rect x="1982.8" y="1449.8" width="4.2" height="12" fill="#333"/><text transform="translate(1995.8 1481.4) rotate(-45)" font-size="21.2" fill="#4d4d4d" text-anchor="end">1970</text><rect x="2021.9" y="1449.8" width="4.2" height="12" fill="#333"/><text transform="translate(2034.9 1481.4) rotate(-45)" font-size="21.2" fill="#4d4d4d" text-anchor="end">1980</text><rect x="2061" y="1449.8" width="4.2" height="12" fill="#333"/><text transform="translate(2074 1481.4) rotate(-45)" font-size="21.2" fill="#4d4d4d" text-anchor="end">1990</text><rect x="2100.1" y="1449.8" width="4.2" height="12" fill="#333"/><text transform="translate(2113.1 1481.4) rotate(-45)" font-size="21.2" fill="#4d4d4d" text-anchor="end">2000</text>
<text x="1948.2" y="1547.6" font-size="25.5" fill="#000" text-anchor="middle">Year of Birth</text>
<text transform="translate(1696.1 1349.5) rotate(-90)" font-size="25.5" fill="#000" text-anchor="middle">Fold change</text>
<clipPath id="clip23"><rect x="1766" y="1252" width="364.3" height="196.8"/></clipPath>
<g clip-path="url(#clip23)">
<g fill="#2d2d2d" fill-opacity="0.62" stroke="#2d2d2d" stroke-opacity="0.62" stroke-width="0.8"><circle cx="1781.3" cy="1395.4" r="7.1"/><circle cx="1788.9" cy="1342.8" r="7.1"/><circle cx="1797.4" cy="1358.9" r="7.1"/><circle cx="1797.4" cy="1397.1" r="7.1"/><circle cx="1805" cy="1358.9" r="7.1"/><circle cx="1809.3" cy="1403.1" r="7.1"/><circle cx="1810.1" cy="1394.6" r="7.1"/><circle cx="1813.5" cy="1358.1" r="7.1"/><circle cx="1816.9" cy="1372.5" r="7.1"/><circle cx="1821.2" cy="1404.8" r="7.1"/><circle cx="1824.6" cy="1336" r="7.1"/><circle cx="1828.8" cy="1364.9" r="7.1"/><circle cx="1832.2" cy="1404.8" r="7.1"/><circle cx="1837.3" cy="1404.8" r="7.1"/><circle cx="1839.8" cy="1401.4" r="7.1"/><circle cx="1844.1" cy="1415" r="7.1"/><circle cx="1847.5" cy="1357.2" r="7.1"/><circle cx="1849.2" cy="1394.6" r="7.1"/><circle cx="1856" cy="1359.8" r="7.1"/><circle cx="1856" cy="1371.7" r="7.1"/><circle cx="1863.6" cy="1350.5" r="7.1"/><circle cx="1863.6" cy="1398.8" r="7.1"/><circle cx="1868.7" cy="1377.6" r="7.1"/><circle cx="1876.3" cy="1374.2" r="7.1"/><circle cx="1879.7" cy="1363.2" r="7.1"/><circle cx="1883.1" cy="1350.5" r="7.1"/><circle cx="1887.4" cy="1390.3" r="7.1"/><circle cx="1888.2" cy="1374.2" r="7.1"/><circle cx="1891.6" cy="1409" r="7.1"/><circle cx="1895" cy="1403.1" r="7.1"/><circle cx="1899.3" cy="1356.4" r="7.1"/><circle cx="1900.1" cy="1394.6" r="7.1"/><circle cx="1903.5" cy="1339.4" r="7.1"/><circle cx="1908.6" cy="1344.5" r="7.1"/><circle cx="1911.1" cy="1348.8" r="7.1"/><circle cx="1911.1" cy="1363.2" r="7.1"/><circle cx="1912" cy="1394.6" r="7.1"/><circle cx="1915.4" cy="1384.4" r="7.1"/><circle cx="1922.2" cy="1391.2" r="7.1"/><circle cx="1925.6" cy="1387" r="7.1"/><circle cx="1927.3" cy="1377.6" r="7.1"/><circle cx="1934.9" cy="1313.1" r="7.1"/><circle cx="1934.9" cy="1388.6" r="7.1"/><circle cx="1940.8" cy="1357.2" r="7.1"/><circle cx="1942.5" cy="1385.3" r="7.1"/><circle cx="1945.9" cy="1352.2" r="7.1"/><circle cx="1954.4" cy="1347.1" r="7.1"/><circle cx="1961.2" cy="1375.9" r="7.1"/><circle cx="1962.1" cy="1398" r="7.1"/><circle cx="1969.7" cy="1364" r="7.1"/><circle cx="1970.5" cy="1392.9" r="7.1"/><circle cx="1973.1" cy="1340.3" r="7.1"/><circle cx="1973.9" cy="1347.9" r="7.1"/><circle cx="1977.3" cy="1337.7" r="7.1"/><circle cx="1977.3" cy="1380.2" r="7.1"/><circle cx="1988.4" cy="1342" r="7.1"/><circle cx="1989.2" cy="1357.2" r="7.1"/><circle cx="1993.5" cy="1377.6" r="7.1"/><circle cx="1994.3" cy="1336" r="7.1"/><circle cx="1996.9" cy="1344.5" r="7.1"/><circle cx="2002" cy="1373.4" r="7.1"/><circle cx="2005.3" cy="1389.5" r="7.1"/><circle cx="2009.6" cy="1390.3" r="7.1"/><circle cx="2013" cy="1325" r="7.1"/><circle cx="2017.2" cy="1332.6" r="7.1"/><circle cx="2024.9" cy="1347.9" r="7.1"/><circle cx="2029.1" cy="1376.8" r="7.1"/><circle cx="2028.3" cy="1410.7" r="7.1"/><circle cx="2036.8" cy="1395.4" r="7.1"/><circle cx="2037.6" cy="1376.8" r="7.1"/></g>
<g fill="#506496" fill-opacity="0.5" stroke="#506496" stroke-opacity="0.5" stroke-width="0.8"><circle cx="2086.8" cy="1297.8" r="7.1"/><circle cx="2091.1" cy="1305.5" r="7.1"/><circle cx="2086.8" cy="1312.3" r="7.1"/><circle cx="2107.2" cy="1297.8" r="7.1"/><circle cx="2111.4" cy="1302.1" r="7.1"/><circle cx="2103.8" cy="1315.7" r="7.1"/><circle cx="2099.6" cy="1321.6" r="7.1"/><circle cx="2114.8" cy="1330.9" r="7.1"/><circle cx="2099.6" cy="1348.8" r="7.1"/><circle cx="2107.2" cy="1385.3" r="7.1"/><circle cx="2095.3" cy="1396.3" r="7.1"/></g>
<path d="M1782.1 1349.6C1785.1 1352.9 1794.2 1365 1800 1369.1C1805.7 1373.2 1810.7 1372.7 1816.9 1374.2C1823.1 1375.8 1831.1 1379 1837.3 1378.5C1843.5 1377.9 1848.6 1373.5 1854.3 1370.8C1859.9 1368.1 1864.7 1363.5 1871.2 1362.3C1877.8 1361.2 1886.8 1364 1893.3 1364C1899.8 1364 1904.6 1363.8 1910.3 1362.3C1915.9 1360.9 1921.6 1357 1927.3 1355.5C1932.9 1354.1 1937.2 1354.1 1944.2 1353.9C1951.3 1353.6 1962.6 1354.1 1969.7 1353.9C1976.8 1353.6 1981.6 1352.7 1986.7 1352.2C1991.8 1351.6 1996 1350.5 2000.3 1350.5C2004.5 1350.5 2008.2 1351.3 2012.1 1352.2C2016.1 1353 2020.1 1354.6 2024 1355.5C2028 1356.5 2033.9 1357.7 2035.9 1358.1L2035.9 1404.8C2033.9 1401.9 2028 1392.9 2024 1387.8C2020.1 1382.7 2016.1 1377.3 2012.1 1374.2C2008.2 1371.1 2004.5 1369.7 2000.3 1369.1C1996 1368.6 1991.8 1370 1986.7 1370.8C1981.6 1371.7 1976.8 1373.4 1969.7 1374.2C1962.6 1375.1 1951.3 1375.6 1944.2 1375.9C1937.2 1376.2 1932.9 1374.8 1927.3 1375.9C1921.6 1377 1915.9 1381.3 1910.3 1382.7C1904.6 1384.1 1899.8 1384.4 1893.3 1384.4C1886.8 1384.4 1877.8 1381.9 1871.2 1382.7C1864.7 1383.6 1859.9 1387 1854.3 1389.5C1848.6 1392 1843.5 1397 1837.3 1398C1831.1 1399 1823.1 1396.6 1816.9 1395.4C1810.7 1394.3 1805.7 1388.8 1800 1391.2C1794.2 1393.6 1785.1 1406.8 1782.1 1409.9Z" fill="#999" fill-opacity="0.4"/>
<path d="M1781.3 1378.5C1784.4 1378.9 1794 1379.9 1800 1381C1805.9 1382.1 1810.7 1384.1 1816.9 1385.3C1823.1 1386.4 1831.1 1388.5 1837.3 1387.8C1843.5 1387.1 1848.6 1383.6 1854.3 1381C1859.9 1378.5 1864.7 1373.5 1871.2 1372.5C1877.8 1371.5 1886.8 1374.9 1893.3 1375.1C1899.8 1375.2 1904.6 1374.8 1910.3 1373.4C1915.9 1372 1921.6 1368 1927.3 1366.6C1932.9 1365.2 1937.2 1365.3 1944.2 1364.9C1951.3 1364.5 1962.6 1364.7 1969.7 1364C1976.8 1363.3 1981.6 1361.6 1986.7 1360.6C1991.8 1359.7 1996 1357.8 2000.3 1358.1C2004.5 1358.4 2008.2 1360.5 2012.1 1362.3C2016.1 1364.2 2020.1 1366.4 2024 1369.1C2028 1371.8 2033.9 1376.9 2035.9 1378.5" fill="none" stroke="#aaaaaa" stroke-width="8.8" stroke-linejoin="round"/>
</g>
<line x1="1934.7" y1="1254.4" x2="1934.7" y2="1448.8" stroke="#000" stroke-width="1.9" stroke-dasharray="7.2 7.3"/>
<line x1="1977.7" y1="1254.4" x2="1977.7" y2="1448.8" stroke="#000" stroke-width="1.9" stroke-dasharray="7.2 7.3"/>
<line x1="2012.9" y1="1254.4" x2="2012.9" y2="1448.8" stroke="#000" stroke-width="1.9" stroke-dasharray="7.2 7.3"/>
<rect x="1766" y="1252" width="364.3" height="196.8" fill="none" stroke="#000" stroke-width="2.5"/>
</svg></body></html>
